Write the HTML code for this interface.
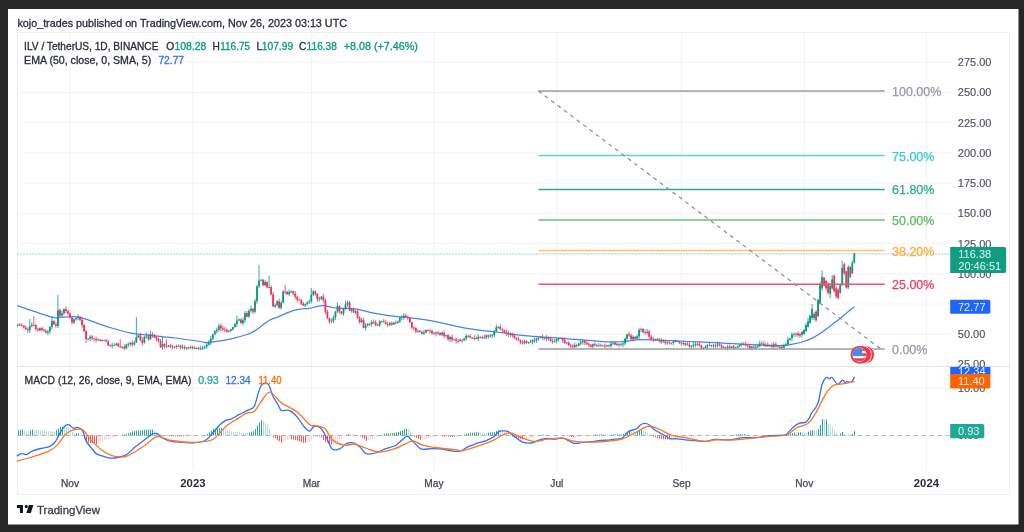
<!DOCTYPE html>
<html><head><meta charset="utf-8"><style>
html,body{margin:0;padding:0;width:1024px;height:532px;overflow:hidden;background:#262626;}
svg{position:absolute;left:0;top:0;}
text{font-family:"Liberation Sans", sans-serif;}
svg{will-change:transform;}
</style></head><body>
<svg width="1024" height="532" viewBox="0 0 1024 532">
<rect x="8" y="9" width="1010.5" height="515.5" fill="#ffffff"/>
<text x="17.4" y="26.5" font-size="11" fill="#2a2e39" font-weight="400" text-anchor="start" textLength="329.6" lengthAdjust="spacingAndGlyphs" stroke="#2a2e39" stroke-width="0.3">kojo_trades published on TradingView.com, Nov 26, 2023 03:13 UTC</text>
<rect x="17.5" y="32.5" width="992" height="462" fill="#fff" stroke="#eeeff1" stroke-width="1"/>
<path d="M17.5,62.3H950.5" stroke="#f2f3f6" stroke-width="1"/>
<path d="M17.5,92.5H950.5" stroke="#f2f3f6" stroke-width="1"/>
<path d="M17.5,122.7H950.5" stroke="#f2f3f6" stroke-width="1"/>
<path d="M17.5,152.9H950.5" stroke="#f2f3f6" stroke-width="1"/>
<path d="M17.5,183.1H950.5" stroke="#f2f3f6" stroke-width="1"/>
<path d="M17.5,213.4H950.5" stroke="#f2f3f6" stroke-width="1"/>
<path d="M17.5,243.6H950.5" stroke="#f2f3f6" stroke-width="1"/>
<path d="M17.5,273.8H950.5" stroke="#f2f3f6" stroke-width="1"/>
<path d="M17.5,304.0H950.5" stroke="#f2f3f6" stroke-width="1"/>
<path d="M17.5,334.2H950.5" stroke="#f2f3f6" stroke-width="1"/>
<path d="M17.5,388.1H950.5" stroke="#f2f3f6" stroke-width="1"/>
<path d="M17.5,435.5H950.5" stroke="#f2f3f6" stroke-width="1"/>
<path d="M70,32.5V470.5" stroke="#f2f3f6" stroke-width="1"/>
<path d="M192.9,32.5V470.5" stroke="#f2f3f6" stroke-width="1"/>
<path d="M311.5,32.5V470.5" stroke="#f2f3f6" stroke-width="1"/>
<path d="M433.9,32.5V470.5" stroke="#f2f3f6" stroke-width="1"/>
<path d="M556.8,32.5V470.5" stroke="#f2f3f6" stroke-width="1"/>
<path d="M681.6,32.5V470.5" stroke="#f2f3f6" stroke-width="1"/>
<path d="M804.3,32.5V470.5" stroke="#f2f3f6" stroke-width="1"/>
<path d="M926.4,32.5V470.5" stroke="#f2f3f6" stroke-width="1"/>
<path d="M17.5,366.5H1009.5" stroke="#e0e3eb" stroke-width="1.2"/>
<path d="M17.5,470.5H1009.5" stroke="#fff" stroke-width="0"/>
<path d="M17.3,305.6 C22.9,307.5 44.1,314.8 51.0,316.8 C57.9,318.8 55.6,317.6 58.6,317.6 C61.6,317.6 65.3,316.8 69.0,316.8 C72.7,316.8 74.2,315.8 81.0,317.6 C87.8,319.4 101.8,325.0 110.0,327.5 C118.2,330.0 123.3,331.5 130.0,332.8 C136.7,334.1 142.5,334.5 150.0,335.4 C157.5,336.3 166.7,337.0 175.0,338.0 C183.3,339.0 194.7,340.7 200.0,341.5 C205.3,342.3 204.4,342.6 207.0,342.6 C209.6,342.6 211.5,342.2 215.6,341.6 C219.7,341.0 226.1,339.9 231.3,338.8 C236.5,337.6 243.0,335.8 246.9,334.5 C250.8,333.2 252.1,332.4 254.7,330.9 C257.3,329.3 259.9,327.1 262.5,325.2 C265.1,323.3 267.7,321.1 270.3,319.7 C272.9,318.3 275.5,317.9 278.1,316.9 C280.7,315.8 283.3,314.5 285.9,313.4 C288.5,312.3 291.2,311.1 293.8,310.3 C296.4,309.5 299.0,309.1 301.6,308.8 C304.2,308.4 306.8,308.8 309.4,308.4 C312.0,308.0 314.9,306.9 317.2,306.4 C319.5,305.9 320.8,305.4 323.4,305.6 C326.0,305.8 329.9,307.0 332.8,307.5 C335.7,308.0 336.9,308.2 340.6,308.4 C344.3,308.6 350.1,308.1 355.0,308.8 C359.9,309.5 363.6,311.1 370.0,312.3 C376.4,313.5 386.9,315.3 393.6,316.2 C400.3,317.1 403.6,317.0 410.0,317.8 C416.4,318.6 423.0,319.1 432.0,320.8 C441.0,322.5 453.3,325.9 464.0,327.8 C474.7,329.7 485.3,330.7 496.0,332.0 C506.7,333.3 517.3,334.8 528.0,335.8 C538.7,336.9 549.3,337.5 560.0,338.3 C570.7,339.1 584.0,340.0 592.0,340.6 C600.0,341.2 602.7,341.8 608.0,341.9 C613.3,342.0 618.7,341.9 624.0,341.5 C629.3,341.1 634.7,339.9 640.0,339.6 C645.3,339.4 648.0,339.7 656.0,340.0 C664.0,340.3 677.3,341.0 688.0,341.5 C698.7,342.0 708.0,342.3 720.0,342.9 C732.0,343.5 749.7,344.8 760.0,345.2 C770.3,345.6 776.0,345.8 781.6,345.6 C787.2,345.4 790.1,344.6 793.8,343.9 C797.5,343.2 800.4,342.6 803.6,341.5 C806.9,340.4 810.0,339.3 813.3,337.6 C816.5,335.9 819.8,333.8 823.1,331.5 C826.4,329.2 829.6,326.6 832.9,324.1 C836.2,321.6 839.2,319.2 842.7,316.3 C846.2,313.4 852.3,308.3 854.2,306.7" fill="none" stroke="#4582f8" stroke-width="1.25"/>
<g><path d="M17.71,323.9V327.0" stroke="#089981" stroke-width="0.8"/>
<rect x="16.81" y="324.7" width="1.8" height="0.8" fill="#089981"/>
<path d="M19.72,323.0V326.2" stroke="#f5305c" stroke-width="0.8"/>
<rect x="18.82" y="324.7" width="1.8" height="0.8" fill="#f5305c"/>
<path d="M21.74,323.3V326.3" stroke="#f5305c" stroke-width="0.8"/>
<rect x="20.84" y="324.9" width="1.8" height="0.9" fill="#f5305c"/>
<path d="M23.75,325.2V328.3" stroke="#f5305c" stroke-width="0.8"/>
<rect x="22.85" y="325.8" width="1.8" height="1.9" fill="#f5305c"/>
<path d="M25.76,325.3V329.9" stroke="#f5305c" stroke-width="0.8"/>
<rect x="24.86" y="327.7" width="1.8" height="1.5" fill="#f5305c"/>
<path d="M27.77,327.3V332.9" stroke="#f5305c" stroke-width="0.8"/>
<rect x="26.87" y="329.2" width="1.8" height="1.0" fill="#f5305c"/>
<path d="M29.78,319.0V333.0" stroke="#089981" stroke-width="0.8"/>
<rect x="28.88" y="326.2" width="1.8" height="4.0" fill="#089981"/>
<path d="M31.79,322.3V327.3" stroke="#089981" stroke-width="0.8"/>
<rect x="30.89" y="324.8" width="1.8" height="1.4" fill="#089981"/>
<path d="M33.80,316.0V326.2" stroke="#f5305c" stroke-width="0.8"/>
<rect x="32.90" y="324.8" width="1.8" height="0.8" fill="#f5305c"/>
<path d="M35.81,324.2V330.8" stroke="#f5305c" stroke-width="0.8"/>
<rect x="34.91" y="325.0" width="1.8" height="4.0" fill="#f5305c"/>
<path d="M37.82,327.7V332.0" stroke="#f5305c" stroke-width="0.8"/>
<rect x="36.92" y="329.0" width="1.8" height="1.2" fill="#f5305c"/>
<path d="M39.83,327.5V331.2" stroke="#089981" stroke-width="0.8"/>
<rect x="38.93" y="328.1" width="1.8" height="2.2" fill="#089981"/>
<path d="M41.85,326.6V331.3" stroke="#f5305c" stroke-width="0.8"/>
<rect x="40.95" y="328.1" width="1.8" height="2.1" fill="#f5305c"/>
<path d="M43.86,328.7V332.1" stroke="#f5305c" stroke-width="0.8"/>
<rect x="42.96" y="330.2" width="1.8" height="0.8" fill="#f5305c"/>
<path d="M45.87,328.9V333.6" stroke="#f5305c" stroke-width="0.8"/>
<rect x="44.97" y="331.0" width="1.8" height="1.6" fill="#f5305c"/>
<path d="M47.88,329.8V335.1" stroke="#089981" stroke-width="0.8"/>
<rect x="46.98" y="331.4" width="1.8" height="1.2" fill="#089981"/>
<path d="M49.89,326.0V334.2" stroke="#089981" stroke-width="0.8"/>
<rect x="48.99" y="327.1" width="1.8" height="4.3" fill="#089981"/>
<path d="M51.90,316.8V329.3" stroke="#089981" stroke-width="0.8"/>
<rect x="51.00" y="321.1" width="1.8" height="6.0" fill="#089981"/>
<path d="M53.91,319.6V324.9" stroke="#f5305c" stroke-width="0.8"/>
<rect x="53.01" y="321.1" width="1.8" height="3.3" fill="#f5305c"/>
<path d="M55.92,322.2V327.6" stroke="#f5305c" stroke-width="0.8"/>
<rect x="55.02" y="324.4" width="1.8" height="1.5" fill="#f5305c"/>
<path d="M57.93,295.0V327.9" stroke="#089981" stroke-width="0.8"/>
<rect x="57.03" y="310.2" width="1.8" height="15.7" fill="#089981"/>
<path d="M59.95,308.4V317.0" stroke="#f5305c" stroke-width="0.8"/>
<rect x="59.05" y="310.2" width="1.8" height="5.4" fill="#f5305c"/>
<path d="M61.96,310.6V317.1" stroke="#089981" stroke-width="0.8"/>
<rect x="61.06" y="313.3" width="1.8" height="2.2" fill="#089981"/>
<path d="M63.97,308.6V315.4" stroke="#089981" stroke-width="0.8"/>
<rect x="63.07" y="309.1" width="1.8" height="4.2" fill="#089981"/>
<path d="M65.98,306.3V313.4" stroke="#f5305c" stroke-width="0.8"/>
<rect x="65.08" y="309.1" width="1.8" height="2.0" fill="#f5305c"/>
<path d="M67.99,309.7V315.6" stroke="#f5305c" stroke-width="0.8"/>
<rect x="67.09" y="311.1" width="1.8" height="2.5" fill="#f5305c"/>
<path d="M70.00,312.1V318.4" stroke="#f5305c" stroke-width="0.8"/>
<rect x="69.10" y="313.6" width="1.8" height="4.0" fill="#f5305c"/>
<path d="M72.01,317.1V324.8" stroke="#f5305c" stroke-width="0.8"/>
<rect x="71.11" y="317.6" width="1.8" height="4.9" fill="#f5305c"/>
<path d="M74.02,318.3V323.9" stroke="#089981" stroke-width="0.8"/>
<rect x="73.12" y="319.3" width="1.8" height="3.2" fill="#089981"/>
<path d="M76.03,317.5V320.8" stroke="#089981" stroke-width="0.8"/>
<rect x="75.13" y="318.1" width="1.8" height="1.2" fill="#089981"/>
<path d="M78.04,314.3V320.4" stroke="#089981" stroke-width="0.8"/>
<rect x="77.14" y="316.9" width="1.8" height="1.2" fill="#089981"/>
<path d="M80.06,315.8V321.2" stroke="#f5305c" stroke-width="0.8"/>
<rect x="79.16" y="316.9" width="1.8" height="2.9" fill="#f5305c"/>
<path d="M82.07,317.2V327.8" stroke="#f5305c" stroke-width="0.8"/>
<rect x="81.17" y="319.8" width="1.8" height="5.3" fill="#f5305c"/>
<path d="M84.08,324.3V332.2" stroke="#f5305c" stroke-width="0.8"/>
<rect x="83.18" y="325.1" width="1.8" height="6.1" fill="#f5305c"/>
<path d="M86.09,329.7V343.0" stroke="#f5305c" stroke-width="0.8"/>
<rect x="85.19" y="331.2" width="1.8" height="7.8" fill="#f5305c"/>
<path d="M88.10,338.2V340.5" stroke="#089981" stroke-width="0.8"/>
<rect x="87.20" y="338.6" width="1.8" height="0.8" fill="#089981"/>
<path d="M90.11,335.0V341.3" stroke="#089981" stroke-width="0.8"/>
<rect x="89.21" y="336.7" width="1.8" height="1.8" fill="#089981"/>
<path d="M92.12,335.1V340.2" stroke="#f5305c" stroke-width="0.8"/>
<rect x="91.22" y="336.7" width="1.8" height="1.5" fill="#f5305c"/>
<path d="M94.13,337.8V341.6" stroke="#f5305c" stroke-width="0.8"/>
<rect x="93.23" y="338.3" width="1.8" height="0.8" fill="#f5305c"/>
<path d="M96.14,336.5V342.4" stroke="#f5305c" stroke-width="0.8"/>
<rect x="95.24" y="339.0" width="1.8" height="1.1" fill="#f5305c"/>
<path d="M98.15,338.3V340.8" stroke="#089981" stroke-width="0.8"/>
<rect x="97.25" y="339.6" width="1.8" height="0.8" fill="#089981"/>
<path d="M100.17,339.1V341.3" stroke="#f5305c" stroke-width="0.8"/>
<rect x="99.27" y="339.6" width="1.8" height="1.2" fill="#f5305c"/>
<path d="M102.18,339.4V342.0" stroke="#089981" stroke-width="0.8"/>
<rect x="101.28" y="340.1" width="1.8" height="0.8" fill="#089981"/>
<path d="M104.19,339.7V341.0" stroke="#f5305c" stroke-width="0.8"/>
<rect x="103.29" y="340.1" width="1.8" height="0.8" fill="#f5305c"/>
<path d="M106.20,339.0V342.0" stroke="#f5305c" stroke-width="0.8"/>
<rect x="105.30" y="340.2" width="1.8" height="1.3" fill="#f5305c"/>
<path d="M108.21,339.6V346.1" stroke="#f5305c" stroke-width="0.8"/>
<rect x="107.31" y="341.5" width="1.8" height="3.9" fill="#f5305c"/>
<path d="M110.22,344.1V346.7" stroke="#f5305c" stroke-width="0.8"/>
<rect x="109.32" y="345.4" width="1.8" height="0.8" fill="#f5305c"/>
<path d="M112.23,342.9V348.2" stroke="#089981" stroke-width="0.8"/>
<rect x="111.33" y="345.3" width="1.8" height="0.8" fill="#089981"/>
<path d="M114.24,343.3V345.9" stroke="#089981" stroke-width="0.8"/>
<rect x="113.34" y="344.9" width="1.8" height="0.8" fill="#089981"/>
<path d="M116.25,342.4V345.9" stroke="#089981" stroke-width="0.8"/>
<rect x="115.35" y="343.6" width="1.8" height="1.3" fill="#089981"/>
<path d="M118.26,342.8V346.7" stroke="#f5305c" stroke-width="0.8"/>
<rect x="117.36" y="343.6" width="1.8" height="2.7" fill="#f5305c"/>
<path d="M120.28,339.3V348.0" stroke="#f5305c" stroke-width="0.8"/>
<rect x="119.38" y="346.3" width="1.8" height="1.0" fill="#f5305c"/>
<path d="M122.29,346.3V349.0" stroke="#089981" stroke-width="0.8"/>
<rect x="121.39" y="346.7" width="1.8" height="0.8" fill="#089981"/>
<path d="M124.30,344.3V350.5" stroke="#f5305c" stroke-width="0.8"/>
<rect x="123.40" y="346.7" width="1.8" height="1.7" fill="#f5305c"/>
<path d="M126.31,343.5V349.2" stroke="#089981" stroke-width="0.8"/>
<rect x="125.41" y="344.7" width="1.8" height="3.7" fill="#089981"/>
<path d="M128.32,342.4V347.0" stroke="#089981" stroke-width="0.8"/>
<rect x="127.42" y="344.1" width="1.8" height="0.8" fill="#089981"/>
<path d="M130.33,341.9V346.5" stroke="#089981" stroke-width="0.8"/>
<rect x="129.43" y="342.8" width="1.8" height="1.3" fill="#089981"/>
<path d="M132.34,340.4V346.9" stroke="#f5305c" stroke-width="0.8"/>
<rect x="131.44" y="342.8" width="1.8" height="1.8" fill="#f5305c"/>
<path d="M134.35,340.4V345.6" stroke="#089981" stroke-width="0.8"/>
<rect x="133.45" y="342.6" width="1.8" height="2.0" fill="#089981"/>
<path d="M136.36,317.0V343.0" stroke="#089981" stroke-width="0.8"/>
<rect x="135.46" y="337.0" width="1.8" height="5.5" fill="#089981"/>
<path d="M138.37,334.5V338.1" stroke="#089981" stroke-width="0.8"/>
<rect x="137.47" y="335.5" width="1.8" height="1.5" fill="#089981"/>
<path d="M140.38,332.8V341.5" stroke="#f5305c" stroke-width="0.8"/>
<rect x="139.48" y="335.5" width="1.8" height="4.5" fill="#f5305c"/>
<path d="M142.40,337.3V345.4" stroke="#f5305c" stroke-width="0.8"/>
<rect x="141.50" y="340.1" width="1.8" height="2.7" fill="#f5305c"/>
<path d="M144.41,335.8V343.7" stroke="#089981" stroke-width="0.8"/>
<rect x="143.51" y="336.7" width="1.8" height="6.0" fill="#089981"/>
<path d="M146.42,332.8V338.6" stroke="#089981" stroke-width="0.8"/>
<rect x="145.52" y="336.4" width="1.8" height="0.8" fill="#089981"/>
<path d="M148.43,334.0V340.8" stroke="#f5305c" stroke-width="0.8"/>
<rect x="147.53" y="336.4" width="1.8" height="2.9" fill="#f5305c"/>
<path d="M150.44,330.8V339.9" stroke="#089981" stroke-width="0.8"/>
<rect x="149.54" y="334.4" width="1.8" height="4.9" fill="#089981"/>
<path d="M152.45,331.9V337.9" stroke="#f5305c" stroke-width="0.8"/>
<rect x="151.55" y="334.4" width="1.8" height="1.2" fill="#f5305c"/>
<path d="M154.46,334.1V338.0" stroke="#f5305c" stroke-width="0.8"/>
<rect x="153.56" y="335.6" width="1.8" height="1.6" fill="#f5305c"/>
<path d="M156.47,336.0V341.3" stroke="#f5305c" stroke-width="0.8"/>
<rect x="155.57" y="337.2" width="1.8" height="1.7" fill="#f5305c"/>
<path d="M158.48,337.6V342.5" stroke="#f5305c" stroke-width="0.8"/>
<rect x="157.58" y="338.9" width="1.8" height="2.2" fill="#f5305c"/>
<path d="M160.50,339.0V347.9" stroke="#f5305c" stroke-width="0.8"/>
<rect x="159.59" y="341.1" width="1.8" height="6.0" fill="#f5305c"/>
<path d="M162.51,336.7V349.7" stroke="#089981" stroke-width="0.8"/>
<rect x="161.61" y="344.1" width="1.8" height="3.1" fill="#089981"/>
<path d="M164.52,343.3V348.5" stroke="#f5305c" stroke-width="0.8"/>
<rect x="163.62" y="344.1" width="1.8" height="2.0" fill="#f5305c"/>
<path d="M166.53,339.3V348.0" stroke="#f5305c" stroke-width="0.8"/>
<rect x="165.63" y="346.1" width="1.8" height="0.8" fill="#f5305c"/>
<path d="M168.54,344.8V347.2" stroke="#089981" stroke-width="0.8"/>
<rect x="167.64" y="345.5" width="1.8" height="1.3" fill="#089981"/>
<path d="M170.55,343.6V348.2" stroke="#f5305c" stroke-width="0.8"/>
<rect x="169.65" y="345.5" width="1.8" height="1.0" fill="#f5305c"/>
<path d="M172.56,345.1V349.4" stroke="#f5305c" stroke-width="0.8"/>
<rect x="171.66" y="346.6" width="1.8" height="0.8" fill="#f5305c"/>
<path d="M174.57,346.0V348.0" stroke="#f5305c" stroke-width="0.8"/>
<rect x="173.67" y="346.9" width="1.8" height="0.8" fill="#f5305c"/>
<path d="M176.58,344.8V348.8" stroke="#089981" stroke-width="0.8"/>
<rect x="175.68" y="345.8" width="1.8" height="1.2" fill="#089981"/>
<path d="M178.59,344.4V346.5" stroke="#f5305c" stroke-width="0.8"/>
<rect x="177.69" y="345.8" width="1.8" height="0.8" fill="#f5305c"/>
<path d="M180.61,344.5V349.1" stroke="#f5305c" stroke-width="0.8"/>
<rect x="179.71" y="345.8" width="1.8" height="1.8" fill="#f5305c"/>
<path d="M182.62,344.3V349.0" stroke="#089981" stroke-width="0.8"/>
<rect x="181.72" y="346.9" width="1.8" height="0.8" fill="#089981"/>
<path d="M184.63,345.3V349.8" stroke="#f5305c" stroke-width="0.8"/>
<rect x="183.73" y="346.9" width="1.8" height="1.3" fill="#f5305c"/>
<path d="M186.64,347.1V349.6" stroke="#089981" stroke-width="0.8"/>
<rect x="185.74" y="347.5" width="1.8" height="0.8" fill="#089981"/>
<path d="M188.65,346.6V349.8" stroke="#089981" stroke-width="0.8"/>
<rect x="187.75" y="347.0" width="1.8" height="0.8" fill="#089981"/>
<path d="M190.66,345.4V349.2" stroke="#f5305c" stroke-width="0.8"/>
<rect x="189.76" y="347.0" width="1.8" height="0.8" fill="#f5305c"/>
<path d="M192.67,345.8V349.7" stroke="#f5305c" stroke-width="0.8"/>
<rect x="191.77" y="347.0" width="1.8" height="1.0" fill="#f5305c"/>
<path d="M194.68,345.8V348.7" stroke="#089981" stroke-width="0.8"/>
<rect x="193.78" y="348.0" width="1.8" height="0.8" fill="#089981"/>
<path d="M196.69,347.0V349.1" stroke="#089981" stroke-width="0.8"/>
<rect x="195.79" y="348.0" width="1.8" height="0.8" fill="#089981"/>
<path d="M198.70,346.4V350.3" stroke="#f5305c" stroke-width="0.8"/>
<rect x="197.80" y="348.0" width="1.8" height="0.8" fill="#f5305c"/>
<path d="M200.72,345.9V350.0" stroke="#089981" stroke-width="0.8"/>
<rect x="199.81" y="348.5" width="1.8" height="0.8" fill="#089981"/>
<path d="M202.73,345.9V350.1" stroke="#089981" stroke-width="0.8"/>
<rect x="201.83" y="347.6" width="1.8" height="1.0" fill="#089981"/>
<path d="M204.74,345.3V349.2" stroke="#089981" stroke-width="0.8"/>
<rect x="203.84" y="346.8" width="1.8" height="0.8" fill="#089981"/>
<path d="M206.75,342.1V348.9" stroke="#089981" stroke-width="0.8"/>
<rect x="205.85" y="344.7" width="1.8" height="2.0" fill="#089981"/>
<path d="M208.76,340.1V345.8" stroke="#089981" stroke-width="0.8"/>
<rect x="207.86" y="342.7" width="1.8" height="2.0" fill="#089981"/>
<path d="M210.77,336.1V345.1" stroke="#089981" stroke-width="0.8"/>
<rect x="209.87" y="338.8" width="1.8" height="4.0" fill="#089981"/>
<path d="M212.78,333.7V340.2" stroke="#089981" stroke-width="0.8"/>
<rect x="211.88" y="334.4" width="1.8" height="4.3" fill="#089981"/>
<path d="M214.79,330.1V335.0" stroke="#089981" stroke-width="0.8"/>
<rect x="213.89" y="331.1" width="1.8" height="3.4" fill="#089981"/>
<path d="M216.80,327.6V333.6" stroke="#089981" stroke-width="0.8"/>
<rect x="215.90" y="329.9" width="1.8" height="1.2" fill="#089981"/>
<path d="M218.81,323.7V331.9" stroke="#089981" stroke-width="0.8"/>
<rect x="217.91" y="325.8" width="1.8" height="4.1" fill="#089981"/>
<path d="M220.83,323.3V331.0" stroke="#f5305c" stroke-width="0.8"/>
<rect x="219.93" y="325.8" width="1.8" height="2.5" fill="#f5305c"/>
<path d="M222.84,325.6V331.0" stroke="#f5305c" stroke-width="0.8"/>
<rect x="221.94" y="328.3" width="1.8" height="1.3" fill="#f5305c"/>
<path d="M224.85,326.8V332.2" stroke="#f5305c" stroke-width="0.8"/>
<rect x="223.95" y="329.6" width="1.8" height="0.8" fill="#f5305c"/>
<path d="M226.86,328.4V333.1" stroke="#f5305c" stroke-width="0.8"/>
<rect x="225.96" y="329.8" width="1.8" height="1.7" fill="#f5305c"/>
<path d="M228.87,329.7V332.6" stroke="#089981" stroke-width="0.8"/>
<rect x="227.97" y="330.6" width="1.8" height="0.9" fill="#089981"/>
<path d="M230.88,328.9V332.3" stroke="#089981" stroke-width="0.8"/>
<rect x="229.98" y="329.3" width="1.8" height="1.3" fill="#089981"/>
<path d="M232.89,326.6V330.5" stroke="#089981" stroke-width="0.8"/>
<rect x="231.99" y="327.1" width="1.8" height="2.3" fill="#089981"/>
<path d="M234.90,322.5V327.6" stroke="#089981" stroke-width="0.8"/>
<rect x="234.00" y="324.2" width="1.8" height="2.9" fill="#089981"/>
<path d="M236.91,315.5V326.9" stroke="#089981" stroke-width="0.8"/>
<rect x="236.01" y="320.7" width="1.8" height="3.5" fill="#089981"/>
<path d="M238.92,318.4V321.2" stroke="#089981" stroke-width="0.8"/>
<rect x="238.02" y="319.4" width="1.8" height="1.3" fill="#089981"/>
<path d="M240.94,318.4V323.8" stroke="#f5305c" stroke-width="0.8"/>
<rect x="240.03" y="319.4" width="1.8" height="3.7" fill="#f5305c"/>
<path d="M242.95,317.6V325.5" stroke="#089981" stroke-width="0.8"/>
<rect x="242.05" y="320.2" width="1.8" height="3.0" fill="#089981"/>
<path d="M244.96,311.0V322.8" stroke="#089981" stroke-width="0.8"/>
<rect x="244.06" y="313.2" width="1.8" height="7.0" fill="#089981"/>
<path d="M246.97,311.1V317.3" stroke="#f5305c" stroke-width="0.8"/>
<rect x="246.07" y="313.2" width="1.8" height="3.5" fill="#f5305c"/>
<path d="M248.98,308.8V318.1" stroke="#089981" stroke-width="0.8"/>
<rect x="248.08" y="310.8" width="1.8" height="5.8" fill="#089981"/>
<path d="M250.99,305.5V312.8" stroke="#089981" stroke-width="0.8"/>
<rect x="250.09" y="308.7" width="1.8" height="2.1" fill="#089981"/>
<path d="M253.00,308.1V314.2" stroke="#f5305c" stroke-width="0.8"/>
<rect x="252.10" y="308.7" width="1.8" height="3.0" fill="#f5305c"/>
<path d="M255.01,298.8V313.2" stroke="#089981" stroke-width="0.8"/>
<rect x="254.11" y="301.2" width="1.8" height="10.5" fill="#089981"/>
<path d="M257.02,284.7V303.8" stroke="#089981" stroke-width="0.8"/>
<rect x="256.12" y="286.4" width="1.8" height="14.8" fill="#089981"/>
<path d="M259.03,264.9V288.1" stroke="#089981" stroke-width="0.8"/>
<rect x="258.13" y="280.5" width="1.8" height="5.9" fill="#089981"/>
<path d="M261.05,279.1V281.3" stroke="#089981" stroke-width="0.8"/>
<rect x="260.15" y="279.8" width="1.8" height="0.8" fill="#089981"/>
<path d="M263.06,278.9V286.4" stroke="#f5305c" stroke-width="0.8"/>
<rect x="262.16" y="279.8" width="1.8" height="5.4" fill="#f5305c"/>
<path d="M265.07,279.8V286.3" stroke="#089981" stroke-width="0.8"/>
<rect x="264.17" y="282.0" width="1.8" height="3.2" fill="#089981"/>
<path d="M267.08,281.2V288.5" stroke="#f5305c" stroke-width="0.8"/>
<rect x="266.18" y="282.0" width="1.8" height="5.2" fill="#f5305c"/>
<path d="M269.09,275.4V287.7" stroke="#089981" stroke-width="0.8"/>
<rect x="268.19" y="287.1" width="1.8" height="0.8" fill="#089981"/>
<path d="M271.10,285.4V295.4" stroke="#f5305c" stroke-width="0.8"/>
<rect x="270.20" y="287.1" width="1.8" height="7.4" fill="#f5305c"/>
<path d="M273.11,291.9V307.0" stroke="#f5305c" stroke-width="0.8"/>
<rect x="272.21" y="294.6" width="1.8" height="11.8" fill="#f5305c"/>
<path d="M275.12,303.6V308.0" stroke="#089981" stroke-width="0.8"/>
<rect x="274.22" y="305.0" width="1.8" height="1.4" fill="#089981"/>
<path d="M277.13,300.0V306.6" stroke="#089981" stroke-width="0.8"/>
<rect x="276.23" y="301.4" width="1.8" height="3.6" fill="#089981"/>
<path d="M279.14,298.6V309.0" stroke="#f5305c" stroke-width="0.8"/>
<rect x="278.24" y="301.4" width="1.8" height="6.4" fill="#f5305c"/>
<path d="M281.15,300.7V309.7" stroke="#089981" stroke-width="0.8"/>
<rect x="280.25" y="302.8" width="1.8" height="5.1" fill="#089981"/>
<path d="M283.17,290.3V303.3" stroke="#089981" stroke-width="0.8"/>
<rect x="282.27" y="291.5" width="1.8" height="11.2" fill="#089981"/>
<path d="M285.18,284.7V294.0" stroke="#f5305c" stroke-width="0.8"/>
<rect x="284.28" y="291.5" width="1.8" height="0.8" fill="#f5305c"/>
<path d="M287.19,291.0V294.9" stroke="#f5305c" stroke-width="0.8"/>
<rect x="286.29" y="291.8" width="1.8" height="2.5" fill="#f5305c"/>
<path d="M289.20,289.4V296.3" stroke="#089981" stroke-width="0.8"/>
<rect x="288.30" y="291.9" width="1.8" height="2.4" fill="#089981"/>
<path d="M291.21,290.4V293.0" stroke="#089981" stroke-width="0.8"/>
<rect x="290.31" y="291.3" width="1.8" height="0.8" fill="#089981"/>
<path d="M293.22,290.6V295.2" stroke="#f5305c" stroke-width="0.8"/>
<rect x="292.32" y="291.3" width="1.8" height="2.4" fill="#f5305c"/>
<path d="M295.23,291.0V299.5" stroke="#f5305c" stroke-width="0.8"/>
<rect x="294.33" y="293.7" width="1.8" height="3.1" fill="#f5305c"/>
<path d="M297.24,295.8V302.4" stroke="#f5305c" stroke-width="0.8"/>
<rect x="296.34" y="296.8" width="1.8" height="2.9" fill="#f5305c"/>
<path d="M299.25,298.5V300.6" stroke="#f5305c" stroke-width="0.8"/>
<rect x="298.35" y="299.7" width="1.8" height="0.8" fill="#f5305c"/>
<path d="M301.26,298.6V305.1" stroke="#f5305c" stroke-width="0.8"/>
<rect x="300.37" y="300.2" width="1.8" height="3.4" fill="#f5305c"/>
<path d="M303.28,301.9V306.0" stroke="#f5305c" stroke-width="0.8"/>
<rect x="302.38" y="303.5" width="1.8" height="2.1" fill="#f5305c"/>
<path d="M305.29,303.6V307.0" stroke="#089981" stroke-width="0.8"/>
<rect x="304.39" y="304.2" width="1.8" height="1.4" fill="#089981"/>
<path d="M307.30,301.7V305.4" stroke="#089981" stroke-width="0.8"/>
<rect x="306.40" y="302.1" width="1.8" height="2.1" fill="#089981"/>
<path d="M309.31,299.4V303.8" stroke="#089981" stroke-width="0.8"/>
<rect x="308.41" y="301.2" width="1.8" height="1.0" fill="#089981"/>
<path d="M311.32,288.0V303.3" stroke="#089981" stroke-width="0.8"/>
<rect x="310.42" y="294.8" width="1.8" height="6.4" fill="#089981"/>
<path d="M313.33,289.9V295.9" stroke="#089981" stroke-width="0.8"/>
<rect x="312.43" y="291.3" width="1.8" height="3.5" fill="#089981"/>
<path d="M315.34,290.5V295.9" stroke="#f5305c" stroke-width="0.8"/>
<rect x="314.44" y="291.3" width="1.8" height="2.4" fill="#f5305c"/>
<path d="M317.35,293.2V301.8" stroke="#f5305c" stroke-width="0.8"/>
<rect x="316.45" y="293.7" width="1.8" height="5.6" fill="#f5305c"/>
<path d="M319.36,296.6V301.5" stroke="#089981" stroke-width="0.8"/>
<rect x="318.46" y="298.5" width="1.8" height="0.8" fill="#089981"/>
<path d="M321.38,295.9V300.2" stroke="#089981" stroke-width="0.8"/>
<rect x="320.48" y="296.7" width="1.8" height="1.9" fill="#089981"/>
<path d="M323.39,294.3V302.8" stroke="#f5305c" stroke-width="0.8"/>
<rect x="322.49" y="296.7" width="1.8" height="3.8" fill="#f5305c"/>
<path d="M325.40,298.7V314.3" stroke="#f5305c" stroke-width="0.8"/>
<rect x="324.50" y="300.5" width="1.8" height="11.3" fill="#f5305c"/>
<path d="M327.41,309.7V319.2" stroke="#f5305c" stroke-width="0.8"/>
<rect x="326.51" y="311.8" width="1.8" height="6.4" fill="#f5305c"/>
<path d="M329.42,317.5V324.0" stroke="#f5305c" stroke-width="0.8"/>
<rect x="328.52" y="318.2" width="1.8" height="3.2" fill="#f5305c"/>
<path d="M331.43,318.5V323.2" stroke="#089981" stroke-width="0.8"/>
<rect x="330.53" y="320.9" width="1.8" height="0.8" fill="#089981"/>
<path d="M333.44,315.6V323.0" stroke="#089981" stroke-width="0.8"/>
<rect x="332.54" y="317.5" width="1.8" height="3.4" fill="#089981"/>
<path d="M335.45,311.1V319.8" stroke="#089981" stroke-width="0.8"/>
<rect x="334.55" y="311.5" width="1.8" height="6.0" fill="#089981"/>
<path d="M337.46,302.5V313.2" stroke="#089981" stroke-width="0.8"/>
<rect x="336.56" y="306.1" width="1.8" height="5.4" fill="#089981"/>
<path d="M339.47,305.5V313.9" stroke="#f5305c" stroke-width="0.8"/>
<rect x="338.57" y="306.1" width="1.8" height="5.6" fill="#f5305c"/>
<path d="M341.49,311.1V314.7" stroke="#f5305c" stroke-width="0.8"/>
<rect x="340.59" y="311.7" width="1.8" height="1.9" fill="#f5305c"/>
<path d="M343.50,307.8V315.8" stroke="#089981" stroke-width="0.8"/>
<rect x="342.60" y="308.7" width="1.8" height="5.0" fill="#089981"/>
<path d="M345.51,300.6V310.0" stroke="#089981" stroke-width="0.8"/>
<rect x="344.61" y="304.5" width="1.8" height="4.2" fill="#089981"/>
<path d="M347.52,300.5V306.7" stroke="#089981" stroke-width="0.8"/>
<rect x="346.62" y="302.5" width="1.8" height="2.0" fill="#089981"/>
<path d="M349.53,300.6V311.3" stroke="#f5305c" stroke-width="0.8"/>
<rect x="348.63" y="302.5" width="1.8" height="8.2" fill="#f5305c"/>
<path d="M351.54,308.2V312.9" stroke="#089981" stroke-width="0.8"/>
<rect x="350.64" y="309.2" width="1.8" height="1.5" fill="#089981"/>
<path d="M353.55,307.5V312.9" stroke="#f5305c" stroke-width="0.8"/>
<rect x="352.65" y="309.2" width="1.8" height="3.3" fill="#f5305c"/>
<path d="M355.56,310.2V314.5" stroke="#089981" stroke-width="0.8"/>
<rect x="354.66" y="311.3" width="1.8" height="1.3" fill="#089981"/>
<path d="M357.57,309.2V318.9" stroke="#f5305c" stroke-width="0.8"/>
<rect x="356.67" y="311.3" width="1.8" height="6.6" fill="#f5305c"/>
<path d="M359.58,316.3V323.7" stroke="#f5305c" stroke-width="0.8"/>
<rect x="358.68" y="317.8" width="1.8" height="4.4" fill="#f5305c"/>
<path d="M361.60,317.6V323.1" stroke="#089981" stroke-width="0.8"/>
<rect x="360.70" y="320.2" width="1.8" height="2.0" fill="#089981"/>
<path d="M363.61,317.5V328.3" stroke="#f5305c" stroke-width="0.8"/>
<rect x="362.71" y="320.2" width="1.8" height="7.7" fill="#f5305c"/>
<path d="M365.62,323.1V330.6" stroke="#089981" stroke-width="0.8"/>
<rect x="364.72" y="325.4" width="1.8" height="2.4" fill="#089981"/>
<path d="M367.63,323.0V326.3" stroke="#089981" stroke-width="0.8"/>
<rect x="366.73" y="324.0" width="1.8" height="1.4" fill="#089981"/>
<path d="M369.64,323.1V325.8" stroke="#089981" stroke-width="0.8"/>
<rect x="368.74" y="324.0" width="1.8" height="0.8" fill="#089981"/>
<path d="M371.65,320.2V326.7" stroke="#089981" stroke-width="0.8"/>
<rect x="370.75" y="321.8" width="1.8" height="2.2" fill="#089981"/>
<path d="M373.66,319.5V323.9" stroke="#f5305c" stroke-width="0.8"/>
<rect x="372.76" y="321.8" width="1.8" height="0.8" fill="#f5305c"/>
<path d="M375.67,320.2V326.0" stroke="#f5305c" stroke-width="0.8"/>
<rect x="374.77" y="322.3" width="1.8" height="2.8" fill="#f5305c"/>
<path d="M377.68,323.5V325.8" stroke="#f5305c" stroke-width="0.8"/>
<rect x="376.78" y="325.1" width="1.8" height="0.8" fill="#f5305c"/>
<path d="M379.69,319.9V326.8" stroke="#089981" stroke-width="0.8"/>
<rect x="378.79" y="321.5" width="1.8" height="3.8" fill="#089981"/>
<path d="M381.71,320.6V322.7" stroke="#089981" stroke-width="0.8"/>
<rect x="380.81" y="321.3" width="1.8" height="0.8" fill="#089981"/>
<path d="M383.72,318.9V322.5" stroke="#f5305c" stroke-width="0.8"/>
<rect x="382.82" y="321.3" width="1.8" height="0.8" fill="#f5305c"/>
<path d="M385.73,319.7V324.6" stroke="#f5305c" stroke-width="0.8"/>
<rect x="384.83" y="322.1" width="1.8" height="1.7" fill="#f5305c"/>
<path d="M387.74,321.8V327.4" stroke="#f5305c" stroke-width="0.8"/>
<rect x="386.84" y="323.9" width="1.8" height="1.0" fill="#f5305c"/>
<path d="M389.75,321.9V326.2" stroke="#089981" stroke-width="0.8"/>
<rect x="388.85" y="323.2" width="1.8" height="1.6" fill="#089981"/>
<path d="M391.76,321.4V325.9" stroke="#f5305c" stroke-width="0.8"/>
<rect x="390.86" y="323.2" width="1.8" height="1.4" fill="#f5305c"/>
<path d="M393.77,321.7V325.1" stroke="#089981" stroke-width="0.8"/>
<rect x="392.87" y="322.8" width="1.8" height="1.8" fill="#089981"/>
<path d="M395.78,320.4V323.9" stroke="#f5305c" stroke-width="0.8"/>
<rect x="394.88" y="322.8" width="1.8" height="0.8" fill="#f5305c"/>
<path d="M397.79,320.6V323.9" stroke="#089981" stroke-width="0.8"/>
<rect x="396.89" y="321.5" width="1.8" height="1.3" fill="#089981"/>
<path d="M399.80,316.8V322.8" stroke="#089981" stroke-width="0.8"/>
<rect x="398.90" y="317.7" width="1.8" height="3.9" fill="#089981"/>
<path d="M401.81,314.7V320.0" stroke="#089981" stroke-width="0.8"/>
<rect x="400.92" y="317.2" width="1.8" height="0.8" fill="#089981"/>
<path d="M403.83,313.1V319.9" stroke="#089981" stroke-width="0.8"/>
<rect x="402.93" y="315.7" width="1.8" height="1.6" fill="#089981"/>
<path d="M405.84,313.6V317.5" stroke="#f5305c" stroke-width="0.8"/>
<rect x="404.94" y="315.7" width="1.8" height="1.3" fill="#f5305c"/>
<path d="M407.85,315.5V320.3" stroke="#f5305c" stroke-width="0.8"/>
<rect x="406.95" y="317.0" width="1.8" height="1.2" fill="#f5305c"/>
<path d="M409.86,317.0V322.8" stroke="#f5305c" stroke-width="0.8"/>
<rect x="408.96" y="318.1" width="1.8" height="4.1" fill="#f5305c"/>
<path d="M411.87,321.5V329.2" stroke="#f5305c" stroke-width="0.8"/>
<rect x="410.97" y="322.2" width="1.8" height="5.4" fill="#f5305c"/>
<path d="M413.88,326.5V330.2" stroke="#f5305c" stroke-width="0.8"/>
<rect x="412.98" y="327.6" width="1.8" height="0.8" fill="#f5305c"/>
<path d="M415.89,327.0V333.3" stroke="#f5305c" stroke-width="0.8"/>
<rect x="414.99" y="328.0" width="1.8" height="3.3" fill="#f5305c"/>
<path d="M417.90,329.3V332.7" stroke="#089981" stroke-width="0.8"/>
<rect x="417.00" y="331.0" width="1.8" height="0.8" fill="#089981"/>
<path d="M419.91,330.2V332.9" stroke="#f5305c" stroke-width="0.8"/>
<rect x="419.01" y="331.0" width="1.8" height="1.0" fill="#f5305c"/>
<path d="M421.93,330.4V334.6" stroke="#f5305c" stroke-width="0.8"/>
<rect x="421.03" y="332.0" width="1.8" height="1.7" fill="#f5305c"/>
<path d="M423.94,329.8V335.2" stroke="#089981" stroke-width="0.8"/>
<rect x="423.04" y="332.5" width="1.8" height="1.2" fill="#089981"/>
<path d="M425.95,329.2V333.2" stroke="#089981" stroke-width="0.8"/>
<rect x="425.05" y="330.0" width="1.8" height="2.5" fill="#089981"/>
<path d="M427.96,329.4V331.5" stroke="#f5305c" stroke-width="0.8"/>
<rect x="427.06" y="330.0" width="1.8" height="0.8" fill="#f5305c"/>
<path d="M429.97,328.8V333.5" stroke="#f5305c" stroke-width="0.8"/>
<rect x="429.07" y="330.6" width="1.8" height="0.8" fill="#f5305c"/>
<path d="M431.98,329.6V334.7" stroke="#f5305c" stroke-width="0.8"/>
<rect x="431.08" y="330.9" width="1.8" height="2.4" fill="#f5305c"/>
<path d="M433.99,332.0V334.7" stroke="#f5305c" stroke-width="0.8"/>
<rect x="433.09" y="333.3" width="1.8" height="0.8" fill="#f5305c"/>
<path d="M436.00,331.5V336.3" stroke="#089981" stroke-width="0.8"/>
<rect x="435.10" y="332.5" width="1.8" height="1.0" fill="#089981"/>
<path d="M438.01,330.9V334.9" stroke="#f5305c" stroke-width="0.8"/>
<rect x="437.11" y="332.5" width="1.8" height="0.8" fill="#f5305c"/>
<path d="M440.02,332.0V335.8" stroke="#f5305c" stroke-width="0.8"/>
<rect x="439.12" y="333.0" width="1.8" height="1.8" fill="#f5305c"/>
<path d="M442.04,331.5V336.2" stroke="#089981" stroke-width="0.8"/>
<rect x="441.14" y="332.8" width="1.8" height="1.9" fill="#089981"/>
<path d="M444.05,330.4V338.3" stroke="#f5305c" stroke-width="0.8"/>
<rect x="443.15" y="332.8" width="1.8" height="3.0" fill="#f5305c"/>
<path d="M446.06,334.9V337.9" stroke="#089981" stroke-width="0.8"/>
<rect x="445.16" y="335.3" width="1.8" height="0.8" fill="#089981"/>
<path d="M448.07,333.8V341.1" stroke="#f5305c" stroke-width="0.8"/>
<rect x="447.17" y="335.3" width="1.8" height="3.9" fill="#f5305c"/>
<path d="M450.08,335.7V341.9" stroke="#089981" stroke-width="0.8"/>
<rect x="449.18" y="337.1" width="1.8" height="2.2" fill="#089981"/>
<path d="M452.09,334.6V342.3" stroke="#f5305c" stroke-width="0.8"/>
<rect x="451.19" y="337.1" width="1.8" height="2.5" fill="#f5305c"/>
<path d="M454.10,338.7V340.3" stroke="#089981" stroke-width="0.8"/>
<rect x="453.20" y="339.4" width="1.8" height="0.8" fill="#089981"/>
<path d="M456.11,337.3V343.6" stroke="#f5305c" stroke-width="0.8"/>
<rect x="455.21" y="339.4" width="1.8" height="1.6" fill="#f5305c"/>
<path d="M458.12,339.0V343.3" stroke="#f5305c" stroke-width="0.8"/>
<rect x="457.22" y="341.0" width="1.8" height="0.8" fill="#f5305c"/>
<path d="M460.13,338.2V341.6" stroke="#089981" stroke-width="0.8"/>
<rect x="459.23" y="339.9" width="1.8" height="1.2" fill="#089981"/>
<path d="M462.15,338.9V342.9" stroke="#f5305c" stroke-width="0.8"/>
<rect x="461.25" y="339.9" width="1.8" height="0.8" fill="#f5305c"/>
<path d="M464.16,337.5V341.0" stroke="#089981" stroke-width="0.8"/>
<rect x="463.26" y="338.7" width="1.8" height="1.6" fill="#089981"/>
<path d="M466.17,334.0V340.7" stroke="#089981" stroke-width="0.8"/>
<rect x="465.27" y="335.9" width="1.8" height="2.7" fill="#089981"/>
<path d="M468.18,335.2V337.6" stroke="#089981" stroke-width="0.8"/>
<rect x="467.28" y="335.8" width="1.8" height="0.8" fill="#089981"/>
<path d="M470.19,334.5V338.5" stroke="#f5305c" stroke-width="0.8"/>
<rect x="469.29" y="335.8" width="1.8" height="1.8" fill="#f5305c"/>
<path d="M472.20,337.1V339.2" stroke="#f5305c" stroke-width="0.8"/>
<rect x="471.30" y="337.6" width="1.8" height="0.8" fill="#f5305c"/>
<path d="M474.21,335.2V340.0" stroke="#089981" stroke-width="0.8"/>
<rect x="473.31" y="337.9" width="1.8" height="0.8" fill="#089981"/>
<path d="M476.22,336.3V339.7" stroke="#f5305c" stroke-width="0.8"/>
<rect x="475.32" y="337.9" width="1.8" height="0.9" fill="#f5305c"/>
<path d="M478.23,334.1V340.9" stroke="#089981" stroke-width="0.8"/>
<rect x="477.33" y="336.8" width="1.8" height="2.0" fill="#089981"/>
<path d="M480.24,336.4V338.6" stroke="#f5305c" stroke-width="0.8"/>
<rect x="479.34" y="336.8" width="1.8" height="0.8" fill="#f5305c"/>
<path d="M482.26,335.6V339.0" stroke="#f5305c" stroke-width="0.8"/>
<rect x="481.36" y="337.0" width="1.8" height="1.0" fill="#f5305c"/>
<path d="M484.27,335.0V338.9" stroke="#089981" stroke-width="0.8"/>
<rect x="483.37" y="337.6" width="1.8" height="0.8" fill="#089981"/>
<path d="M486.28,334.2V339.0" stroke="#089981" stroke-width="0.8"/>
<rect x="485.38" y="335.4" width="1.8" height="2.2" fill="#089981"/>
<path d="M488.29,334.6V338.8" stroke="#f5305c" stroke-width="0.8"/>
<rect x="487.39" y="335.4" width="1.8" height="1.1" fill="#f5305c"/>
<path d="M490.30,334.0V337.4" stroke="#089981" stroke-width="0.8"/>
<rect x="489.40" y="335.6" width="1.8" height="0.9" fill="#089981"/>
<path d="M492.31,334.0V338.0" stroke="#089981" stroke-width="0.8"/>
<rect x="491.41" y="335.1" width="1.8" height="0.8" fill="#089981"/>
<path d="M494.32,330.2V337.4" stroke="#089981" stroke-width="0.8"/>
<rect x="493.42" y="331.1" width="1.8" height="4.0" fill="#089981"/>
<path d="M496.33,324.5V332.7" stroke="#089981" stroke-width="0.8"/>
<rect x="495.43" y="327.2" width="1.8" height="4.0" fill="#089981"/>
<path d="M498.34,326.0V328.6" stroke="#089981" stroke-width="0.8"/>
<rect x="497.44" y="326.9" width="1.8" height="0.8" fill="#089981"/>
<path d="M500.35,324.2V329.9" stroke="#f5305c" stroke-width="0.8"/>
<rect x="499.45" y="326.9" width="1.8" height="2.3" fill="#f5305c"/>
<path d="M502.37,328.3V332.8" stroke="#f5305c" stroke-width="0.8"/>
<rect x="501.47" y="329.2" width="1.8" height="0.9" fill="#f5305c"/>
<path d="M504.38,329.6V332.8" stroke="#f5305c" stroke-width="0.8"/>
<rect x="503.48" y="330.1" width="1.8" height="2.2" fill="#f5305c"/>
<path d="M506.39,329.7V336.0" stroke="#f5305c" stroke-width="0.8"/>
<rect x="505.49" y="332.3" width="1.8" height="1.2" fill="#f5305c"/>
<path d="M508.40,330.7V337.0" stroke="#f5305c" stroke-width="0.8"/>
<rect x="507.50" y="333.5" width="1.8" height="0.9" fill="#f5305c"/>
<path d="M510.41,332.4V337.0" stroke="#089981" stroke-width="0.8"/>
<rect x="509.51" y="333.3" width="1.8" height="1.1" fill="#089981"/>
<path d="M512.42,332.8V337.4" stroke="#f5305c" stroke-width="0.8"/>
<rect x="511.52" y="333.3" width="1.8" height="2.2" fill="#f5305c"/>
<path d="M514.43,334.1V339.0" stroke="#f5305c" stroke-width="0.8"/>
<rect x="513.53" y="335.4" width="1.8" height="2.4" fill="#f5305c"/>
<path d="M516.44,337.4V340.4" stroke="#f5305c" stroke-width="0.8"/>
<rect x="515.54" y="337.8" width="1.8" height="1.5" fill="#f5305c"/>
<path d="M518.45,336.6V341.0" stroke="#f5305c" stroke-width="0.8"/>
<rect x="517.55" y="339.3" width="1.8" height="1.0" fill="#f5305c"/>
<path d="M520.46,339.4V343.9" stroke="#f5305c" stroke-width="0.8"/>
<rect x="519.56" y="340.3" width="1.8" height="2.3" fill="#f5305c"/>
<path d="M522.48,340.2V344.6" stroke="#f5305c" stroke-width="0.8"/>
<rect x="521.58" y="342.6" width="1.8" height="0.8" fill="#f5305c"/>
<path d="M524.49,339.6V344.5" stroke="#089981" stroke-width="0.8"/>
<rect x="523.59" y="341.1" width="1.8" height="2.1" fill="#089981"/>
<path d="M526.50,340.2V343.9" stroke="#f5305c" stroke-width="0.8"/>
<rect x="525.60" y="341.1" width="1.8" height="1.5" fill="#f5305c"/>
<path d="M528.51,341.7V344.0" stroke="#089981" stroke-width="0.8"/>
<rect x="527.61" y="342.2" width="1.8" height="0.8" fill="#089981"/>
<path d="M530.52,339.7V342.7" stroke="#089981" stroke-width="0.8"/>
<rect x="529.62" y="341.9" width="1.8" height="0.8" fill="#089981"/>
<path d="M532.53,339.3V344.6" stroke="#089981" stroke-width="0.8"/>
<rect x="531.63" y="339.8" width="1.8" height="2.1" fill="#089981"/>
<path d="M534.54,337.7V342.9" stroke="#f5305c" stroke-width="0.8"/>
<rect x="533.64" y="339.8" width="1.8" height="0.8" fill="#f5305c"/>
<path d="M536.55,337.4V343.0" stroke="#089981" stroke-width="0.8"/>
<rect x="535.65" y="338.5" width="1.8" height="1.8" fill="#089981"/>
<path d="M538.56,336.8V340.6" stroke="#089981" stroke-width="0.8"/>
<rect x="537.66" y="337.8" width="1.8" height="0.8" fill="#089981"/>
<path d="M540.57,335.9V338.2" stroke="#089981" stroke-width="0.8"/>
<rect x="539.67" y="337.0" width="1.8" height="0.8" fill="#089981"/>
<path d="M542.59,334.4V340.1" stroke="#f5305c" stroke-width="0.8"/>
<rect x="541.69" y="337.0" width="1.8" height="1.2" fill="#f5305c"/>
<path d="M544.60,337.7V339.7" stroke="#f5305c" stroke-width="0.8"/>
<rect x="543.70" y="338.2" width="1.8" height="0.8" fill="#f5305c"/>
<path d="M546.61,335.1V341.4" stroke="#089981" stroke-width="0.8"/>
<rect x="545.71" y="337.8" width="1.8" height="0.9" fill="#089981"/>
<path d="M548.62,336.8V340.6" stroke="#f5305c" stroke-width="0.8"/>
<rect x="547.72" y="337.8" width="1.8" height="1.3" fill="#f5305c"/>
<path d="M550.63,336.5V341.8" stroke="#f5305c" stroke-width="0.8"/>
<rect x="549.73" y="339.1" width="1.8" height="1.8" fill="#f5305c"/>
<path d="M552.64,338.8V343.8" stroke="#f5305c" stroke-width="0.8"/>
<rect x="551.74" y="341.0" width="1.8" height="0.8" fill="#f5305c"/>
<path d="M554.65,339.0V342.6" stroke="#089981" stroke-width="0.8"/>
<rect x="553.75" y="340.9" width="1.8" height="0.8" fill="#089981"/>
<path d="M556.66,337.9V343.1" stroke="#089981" stroke-width="0.8"/>
<rect x="555.76" y="339.2" width="1.8" height="1.7" fill="#089981"/>
<path d="M558.67,337.2V341.4" stroke="#089981" stroke-width="0.8"/>
<rect x="557.77" y="338.1" width="1.8" height="1.1" fill="#089981"/>
<path d="M560.68,337.6V338.6" stroke="#f5305c" stroke-width="0.8"/>
<rect x="559.78" y="338.1" width="1.8" height="0.8" fill="#f5305c"/>
<path d="M562.70,337.0V342.9" stroke="#f5305c" stroke-width="0.8"/>
<rect x="561.80" y="338.2" width="1.8" height="2.0" fill="#f5305c"/>
<path d="M564.71,337.4V344.1" stroke="#f5305c" stroke-width="0.8"/>
<rect x="563.81" y="340.1" width="1.8" height="2.9" fill="#f5305c"/>
<path d="M566.72,342.0V344.6" stroke="#089981" stroke-width="0.8"/>
<rect x="565.82" y="342.6" width="1.8" height="0.8" fill="#089981"/>
<path d="M568.73,341.1V346.3" stroke="#f5305c" stroke-width="0.8"/>
<rect x="567.83" y="342.6" width="1.8" height="2.7" fill="#f5305c"/>
<path d="M570.74,343.4V348.3" stroke="#f5305c" stroke-width="0.8"/>
<rect x="569.84" y="345.3" width="1.8" height="1.0" fill="#f5305c"/>
<path d="M572.75,343.9V349.0" stroke="#f5305c" stroke-width="0.8"/>
<rect x="571.85" y="346.3" width="1.8" height="0.8" fill="#f5305c"/>
<path d="M574.76,342.5V348.2" stroke="#089981" stroke-width="0.8"/>
<rect x="573.86" y="345.0" width="1.8" height="2.1" fill="#089981"/>
<path d="M576.77,343.7V347.6" stroke="#f5305c" stroke-width="0.8"/>
<rect x="575.87" y="345.0" width="1.8" height="0.8" fill="#f5305c"/>
<path d="M578.78,342.5V346.5" stroke="#089981" stroke-width="0.8"/>
<rect x="577.88" y="343.5" width="1.8" height="2.0" fill="#089981"/>
<path d="M580.79,339.5V345.3" stroke="#089981" stroke-width="0.8"/>
<rect x="579.89" y="342.0" width="1.8" height="1.5" fill="#089981"/>
<path d="M582.81,339.7V344.8" stroke="#089981" stroke-width="0.8"/>
<rect x="581.91" y="341.1" width="1.8" height="0.9" fill="#089981"/>
<path d="M584.82,340.1V345.2" stroke="#f5305c" stroke-width="0.8"/>
<rect x="583.92" y="341.1" width="1.8" height="1.8" fill="#f5305c"/>
<path d="M586.83,340.1V345.0" stroke="#f5305c" stroke-width="0.8"/>
<rect x="585.93" y="342.9" width="1.8" height="1.5" fill="#f5305c"/>
<path d="M588.84,342.0V347.1" stroke="#f5305c" stroke-width="0.8"/>
<rect x="587.94" y="344.4" width="1.8" height="0.8" fill="#f5305c"/>
<path d="M590.85,344.2V347.7" stroke="#f5305c" stroke-width="0.8"/>
<rect x="589.95" y="344.7" width="1.8" height="1.9" fill="#f5305c"/>
<path d="M592.86,343.4V349.3" stroke="#089981" stroke-width="0.8"/>
<rect x="591.96" y="344.2" width="1.8" height="2.4" fill="#089981"/>
<path d="M594.87,341.6V346.5" stroke="#f5305c" stroke-width="0.8"/>
<rect x="593.97" y="344.2" width="1.8" height="1.0" fill="#f5305c"/>
<path d="M596.88,343.7V346.9" stroke="#f5305c" stroke-width="0.8"/>
<rect x="595.98" y="345.2" width="1.8" height="0.8" fill="#f5305c"/>
<path d="M598.89,343.0V346.5" stroke="#089981" stroke-width="0.8"/>
<rect x="597.99" y="345.6" width="1.8" height="0.8" fill="#089981"/>
<path d="M600.90,343.5V346.6" stroke="#089981" stroke-width="0.8"/>
<rect x="600.00" y="345.4" width="1.8" height="0.8" fill="#089981"/>
<path d="M602.92,344.7V346.5" stroke="#f5305c" stroke-width="0.8"/>
<rect x="602.02" y="345.4" width="1.8" height="0.8" fill="#f5305c"/>
<path d="M604.93,343.7V348.0" stroke="#f5305c" stroke-width="0.8"/>
<rect x="604.03" y="345.6" width="1.8" height="0.8" fill="#f5305c"/>
<path d="M606.94,344.9V347.2" stroke="#089981" stroke-width="0.8"/>
<rect x="606.04" y="345.4" width="1.8" height="0.8" fill="#089981"/>
<path d="M608.95,344.5V347.3" stroke="#f5305c" stroke-width="0.8"/>
<rect x="608.05" y="345.4" width="1.8" height="0.8" fill="#f5305c"/>
<path d="M610.96,341.3V347.8" stroke="#089981" stroke-width="0.8"/>
<rect x="610.06" y="343.6" width="1.8" height="2.5" fill="#089981"/>
<path d="M612.97,342.2V345.0" stroke="#089981" stroke-width="0.8"/>
<rect x="612.07" y="342.8" width="1.8" height="0.8" fill="#089981"/>
<path d="M614.98,340.9V345.2" stroke="#f5305c" stroke-width="0.8"/>
<rect x="614.08" y="342.8" width="1.8" height="1.8" fill="#f5305c"/>
<path d="M616.99,342.0V346.0" stroke="#089981" stroke-width="0.8"/>
<rect x="616.09" y="344.1" width="1.8" height="0.8" fill="#089981"/>
<path d="M619.00,342.9V347.4" stroke="#f5305c" stroke-width="0.8"/>
<rect x="618.10" y="344.1" width="1.8" height="0.8" fill="#f5305c"/>
<path d="M621.01,342.7V346.0" stroke="#089981" stroke-width="0.8"/>
<rect x="620.11" y="344.4" width="1.8" height="0.8" fill="#089981"/>
<path d="M623.02,340.9V347.2" stroke="#089981" stroke-width="0.8"/>
<rect x="622.12" y="343.4" width="1.8" height="1.0" fill="#089981"/>
<path d="M625.04,337.7V345.6" stroke="#089981" stroke-width="0.8"/>
<rect x="624.14" y="338.6" width="1.8" height="4.8" fill="#089981"/>
<path d="M627.05,333.8V341.2" stroke="#089981" stroke-width="0.8"/>
<rect x="626.15" y="334.3" width="1.8" height="4.3" fill="#089981"/>
<path d="M629.06,331.9V336.9" stroke="#f5305c" stroke-width="0.8"/>
<rect x="628.16" y="334.3" width="1.8" height="1.2" fill="#f5305c"/>
<path d="M631.07,334.0V340.1" stroke="#f5305c" stroke-width="0.8"/>
<rect x="630.17" y="335.5" width="1.8" height="3.8" fill="#f5305c"/>
<path d="M633.08,335.1V341.2" stroke="#089981" stroke-width="0.8"/>
<rect x="632.18" y="336.8" width="1.8" height="2.5" fill="#089981"/>
<path d="M635.09,336.2V340.5" stroke="#f5305c" stroke-width="0.8"/>
<rect x="634.19" y="336.8" width="1.8" height="1.9" fill="#f5305c"/>
<path d="M637.10,334.7V339.4" stroke="#089981" stroke-width="0.8"/>
<rect x="636.20" y="336.3" width="1.8" height="2.3" fill="#089981"/>
<path d="M639.11,328.2V339.0" stroke="#089981" stroke-width="0.8"/>
<rect x="638.21" y="329.9" width="1.8" height="6.5" fill="#089981"/>
<path d="M641.12,327.6V332.2" stroke="#089981" stroke-width="0.8"/>
<rect x="640.22" y="329.2" width="1.8" height="0.8" fill="#089981"/>
<path d="M643.13,328.3V333.1" stroke="#f5305c" stroke-width="0.8"/>
<rect x="642.24" y="329.2" width="1.8" height="3.2" fill="#f5305c"/>
<path d="M645.15,329.7V334.6" stroke="#f5305c" stroke-width="0.8"/>
<rect x="644.25" y="332.4" width="1.8" height="0.8" fill="#f5305c"/>
<path d="M647.16,329.1V334.3" stroke="#089981" stroke-width="0.8"/>
<rect x="646.26" y="331.7" width="1.8" height="1.3" fill="#089981"/>
<path d="M649.17,329.8V339.2" stroke="#f5305c" stroke-width="0.8"/>
<rect x="648.27" y="331.7" width="1.8" height="5.1" fill="#f5305c"/>
<path d="M651.18,334.5V340.2" stroke="#f5305c" stroke-width="0.8"/>
<rect x="650.28" y="336.8" width="1.8" height="2.4" fill="#f5305c"/>
<path d="M653.19,336.8V342.3" stroke="#f5305c" stroke-width="0.8"/>
<rect x="652.29" y="339.2" width="1.8" height="0.8" fill="#f5305c"/>
<path d="M655.20,338.4V341.3" stroke="#089981" stroke-width="0.8"/>
<rect x="654.30" y="339.3" width="1.8" height="0.8" fill="#089981"/>
<path d="M657.21,338.0V340.9" stroke="#f5305c" stroke-width="0.8"/>
<rect x="656.31" y="339.3" width="1.8" height="0.9" fill="#f5305c"/>
<path d="M659.22,337.9V342.8" stroke="#089981" stroke-width="0.8"/>
<rect x="658.32" y="340.1" width="1.8" height="0.8" fill="#089981"/>
<path d="M661.23,338.3V344.1" stroke="#f5305c" stroke-width="0.8"/>
<rect x="660.33" y="340.1" width="1.8" height="1.8" fill="#f5305c"/>
<path d="M663.25,339.1V342.5" stroke="#089981" stroke-width="0.8"/>
<rect x="662.35" y="341.5" width="1.8" height="0.8" fill="#089981"/>
<path d="M665.26,339.8V344.8" stroke="#f5305c" stroke-width="0.8"/>
<rect x="664.36" y="341.5" width="1.8" height="1.4" fill="#f5305c"/>
<path d="M667.27,341.0V344.7" stroke="#089981" stroke-width="0.8"/>
<rect x="666.37" y="342.4" width="1.8" height="0.8" fill="#089981"/>
<path d="M669.28,340.4V344.4" stroke="#f5305c" stroke-width="0.8"/>
<rect x="668.38" y="342.4" width="1.8" height="0.8" fill="#f5305c"/>
<path d="M671.29,342.4V344.8" stroke="#f5305c" stroke-width="0.8"/>
<rect x="670.39" y="342.9" width="1.8" height="0.8" fill="#f5305c"/>
<path d="M673.30,340.8V345.2" stroke="#089981" stroke-width="0.8"/>
<rect x="672.40" y="341.7" width="1.8" height="1.2" fill="#089981"/>
<path d="M675.31,339.5V342.6" stroke="#089981" stroke-width="0.8"/>
<rect x="674.41" y="341.0" width="1.8" height="0.8" fill="#089981"/>
<path d="M677.32,340.4V342.2" stroke="#f5305c" stroke-width="0.8"/>
<rect x="676.42" y="341.0" width="1.8" height="0.8" fill="#f5305c"/>
<path d="M679.33,340.9V344.0" stroke="#f5305c" stroke-width="0.8"/>
<rect x="678.43" y="341.5" width="1.8" height="1.0" fill="#f5305c"/>
<path d="M681.34,342.0V345.4" stroke="#f5305c" stroke-width="0.8"/>
<rect x="680.44" y="342.5" width="1.8" height="0.9" fill="#f5305c"/>
<path d="M683.36,340.8V345.7" stroke="#089981" stroke-width="0.8"/>
<rect x="682.46" y="343.0" width="1.8" height="0.8" fill="#089981"/>
<path d="M685.37,342.5V346.3" stroke="#f5305c" stroke-width="0.8"/>
<rect x="684.47" y="343.0" width="1.8" height="1.7" fill="#f5305c"/>
<path d="M687.38,341.9V345.4" stroke="#089981" stroke-width="0.8"/>
<rect x="686.48" y="344.6" width="1.8" height="0.8" fill="#089981"/>
<path d="M689.39,341.8V348.3" stroke="#f5305c" stroke-width="0.8"/>
<rect x="688.49" y="344.6" width="1.8" height="1.6" fill="#f5305c"/>
<path d="M691.40,344.9V348.9" stroke="#089981" stroke-width="0.8"/>
<rect x="690.50" y="345.8" width="1.8" height="0.8" fill="#089981"/>
<path d="M693.41,342.0V348.4" stroke="#089981" stroke-width="0.8"/>
<rect x="692.51" y="344.7" width="1.8" height="1.1" fill="#089981"/>
<path d="M695.42,341.6V347.3" stroke="#089981" stroke-width="0.8"/>
<rect x="694.52" y="343.9" width="1.8" height="0.8" fill="#089981"/>
<path d="M697.43,342.7V346.2" stroke="#f5305c" stroke-width="0.8"/>
<rect x="696.53" y="343.9" width="1.8" height="0.8" fill="#f5305c"/>
<path d="M699.44,341.4V346.5" stroke="#f5305c" stroke-width="0.8"/>
<rect x="698.54" y="344.0" width="1.8" height="1.5" fill="#f5305c"/>
<path d="M701.45,344.7V349.9" stroke="#f5305c" stroke-width="0.8"/>
<rect x="700.55" y="345.5" width="1.8" height="2.8" fill="#f5305c"/>
<path d="M703.47,347.2V349.3" stroke="#089981" stroke-width="0.8"/>
<rect x="702.57" y="348.1" width="1.8" height="0.8" fill="#089981"/>
<path d="M705.48,345.3V348.6" stroke="#089981" stroke-width="0.8"/>
<rect x="704.58" y="346.5" width="1.8" height="1.6" fill="#089981"/>
<path d="M707.49,344.2V349.1" stroke="#089981" stroke-width="0.8"/>
<rect x="706.59" y="345.0" width="1.8" height="1.5" fill="#089981"/>
<path d="M709.50,342.4V346.4" stroke="#f5305c" stroke-width="0.8"/>
<rect x="708.60" y="345.0" width="1.8" height="0.8" fill="#f5305c"/>
<path d="M711.51,344.7V347.3" stroke="#089981" stroke-width="0.8"/>
<rect x="710.61" y="345.4" width="1.8" height="0.8" fill="#089981"/>
<path d="M713.52,344.0V347.9" stroke="#089981" stroke-width="0.8"/>
<rect x="712.62" y="345.3" width="1.8" height="0.8" fill="#089981"/>
<path d="M715.53,343.5V347.9" stroke="#f5305c" stroke-width="0.8"/>
<rect x="714.63" y="345.3" width="1.8" height="0.8" fill="#f5305c"/>
<path d="M717.54,341.6V347.3" stroke="#089981" stroke-width="0.8"/>
<rect x="716.64" y="344.4" width="1.8" height="1.0" fill="#089981"/>
<path d="M719.55,342.1V346.5" stroke="#f5305c" stroke-width="0.8"/>
<rect x="718.65" y="344.4" width="1.8" height="1.0" fill="#f5305c"/>
<path d="M721.56,343.7V348.7" stroke="#f5305c" stroke-width="0.8"/>
<rect x="720.66" y="345.5" width="1.8" height="2.0" fill="#f5305c"/>
<path d="M723.58,345.8V348.3" stroke="#089981" stroke-width="0.8"/>
<rect x="722.68" y="347.2" width="1.8" height="0.8" fill="#089981"/>
<path d="M725.59,346.7V349.9" stroke="#f5305c" stroke-width="0.8"/>
<rect x="724.69" y="347.2" width="1.8" height="0.8" fill="#f5305c"/>
<path d="M727.60,344.6V350.3" stroke="#089981" stroke-width="0.8"/>
<rect x="726.70" y="346.6" width="1.8" height="1.0" fill="#089981"/>
<path d="M729.61,344.6V348.9" stroke="#f5305c" stroke-width="0.8"/>
<rect x="728.71" y="346.6" width="1.8" height="1.2" fill="#f5305c"/>
<path d="M731.62,345.9V348.5" stroke="#089981" stroke-width="0.8"/>
<rect x="730.72" y="346.4" width="1.8" height="1.4" fill="#089981"/>
<path d="M733.63,345.0V349.4" stroke="#f5305c" stroke-width="0.8"/>
<rect x="732.73" y="346.4" width="1.8" height="1.4" fill="#f5305c"/>
<path d="M735.64,346.8V348.7" stroke="#089981" stroke-width="0.8"/>
<rect x="734.74" y="347.5" width="1.8" height="0.8" fill="#089981"/>
<path d="M737.65,345.6V347.9" stroke="#089981" stroke-width="0.8"/>
<rect x="736.75" y="346.0" width="1.8" height="1.5" fill="#089981"/>
<path d="M739.66,344.0V347.3" stroke="#089981" stroke-width="0.8"/>
<rect x="738.76" y="344.7" width="1.8" height="1.3" fill="#089981"/>
<path d="M741.67,342.3V346.5" stroke="#089981" stroke-width="0.8"/>
<rect x="740.77" y="344.1" width="1.8" height="0.8" fill="#089981"/>
<path d="M743.69,342.2V345.6" stroke="#f5305c" stroke-width="0.8"/>
<rect x="742.79" y="344.1" width="1.8" height="0.8" fill="#f5305c"/>
<path d="M745.70,341.5V346.4" stroke="#f5305c" stroke-width="0.8"/>
<rect x="744.80" y="344.1" width="1.8" height="1.3" fill="#f5305c"/>
<path d="M747.71,344.8V347.9" stroke="#f5305c" stroke-width="0.8"/>
<rect x="746.81" y="345.4" width="1.8" height="0.8" fill="#f5305c"/>
<path d="M749.72,343.6V349.6" stroke="#f5305c" stroke-width="0.8"/>
<rect x="748.82" y="345.9" width="1.8" height="2.3" fill="#f5305c"/>
<path d="M751.73,346.1V350.2" stroke="#089981" stroke-width="0.8"/>
<rect x="750.83" y="346.6" width="1.8" height="1.6" fill="#089981"/>
<path d="M753.74,345.3V349.4" stroke="#f5305c" stroke-width="0.8"/>
<rect x="752.84" y="346.6" width="1.8" height="0.9" fill="#f5305c"/>
<path d="M755.75,344.6V349.6" stroke="#089981" stroke-width="0.8"/>
<rect x="754.85" y="347.2" width="1.8" height="0.8" fill="#089981"/>
<path d="M757.76,343.6V347.7" stroke="#089981" stroke-width="0.8"/>
<rect x="756.86" y="346.2" width="1.8" height="1.1" fill="#089981"/>
<path d="M759.77,340.5V347.1" stroke="#089981" stroke-width="0.8"/>
<rect x="758.87" y="343.5" width="1.8" height="2.6" fill="#089981"/>
<path d="M761.78,341.3V344.2" stroke="#f5305c" stroke-width="0.8"/>
<rect x="760.88" y="343.5" width="1.8" height="0.8" fill="#f5305c"/>
<path d="M763.80,341.1V346.1" stroke="#f5305c" stroke-width="0.8"/>
<rect x="762.90" y="343.8" width="1.8" height="1.6" fill="#f5305c"/>
<path d="M765.81,342.8V347.0" stroke="#089981" stroke-width="0.8"/>
<rect x="764.91" y="344.6" width="1.8" height="0.8" fill="#089981"/>
<path d="M767.82,342.3V346.9" stroke="#f5305c" stroke-width="0.8"/>
<rect x="766.92" y="344.6" width="1.8" height="1.4" fill="#f5305c"/>
<path d="M769.83,344.1V346.6" stroke="#089981" stroke-width="0.8"/>
<rect x="768.93" y="345.3" width="1.8" height="0.8" fill="#089981"/>
<path d="M771.84,343.0V348.9" stroke="#f5305c" stroke-width="0.8"/>
<rect x="770.94" y="345.3" width="1.8" height="1.5" fill="#f5305c"/>
<path d="M773.85,341.9V348.9" stroke="#089981" stroke-width="0.8"/>
<rect x="772.95" y="344.3" width="1.8" height="2.5" fill="#089981"/>
<path d="M775.86,342.1V347.7" stroke="#f5305c" stroke-width="0.8"/>
<rect x="774.96" y="344.3" width="1.8" height="1.9" fill="#f5305c"/>
<path d="M777.87,345.6V347.9" stroke="#f5305c" stroke-width="0.8"/>
<rect x="776.97" y="346.2" width="1.8" height="0.8" fill="#f5305c"/>
<path d="M779.88,345.6V349.1" stroke="#089981" stroke-width="0.8"/>
<rect x="778.98" y="346.9" width="1.8" height="0.8" fill="#089981"/>
<path d="M781.89,344.4V350.0" stroke="#f5305c" stroke-width="0.8"/>
<rect x="780.99" y="346.9" width="1.8" height="1.0" fill="#f5305c"/>
<path d="M783.91,343.5V349.3" stroke="#089981" stroke-width="0.8"/>
<rect x="783.01" y="345.2" width="1.8" height="2.6" fill="#089981"/>
<path d="M785.92,342.6V346.3" stroke="#089981" stroke-width="0.8"/>
<rect x="785.02" y="344.3" width="1.8" height="0.9" fill="#089981"/>
<path d="M787.93,336.9V345.2" stroke="#089981" stroke-width="0.8"/>
<rect x="787.03" y="339.7" width="1.8" height="4.6" fill="#089981"/>
<path d="M789.94,337.9V340.7" stroke="#089981" stroke-width="0.8"/>
<rect x="789.04" y="338.3" width="1.8" height="1.4" fill="#089981"/>
<path d="M791.95,332.4V341.0" stroke="#089981" stroke-width="0.8"/>
<rect x="791.05" y="334.5" width="1.8" height="3.7" fill="#089981"/>
<path d="M793.96,332.7V337.1" stroke="#089981" stroke-width="0.8"/>
<rect x="793.06" y="333.9" width="1.8" height="0.8" fill="#089981"/>
<path d="M795.97,332.5V336.5" stroke="#089981" stroke-width="0.8"/>
<rect x="795.07" y="333.5" width="1.8" height="0.8" fill="#089981"/>
<path d="M797.98,331.4V337.0" stroke="#f5305c" stroke-width="0.8"/>
<rect x="797.08" y="333.5" width="1.8" height="1.6" fill="#f5305c"/>
<path d="M799.99,332.8V337.9" stroke="#f5305c" stroke-width="0.8"/>
<rect x="799.09" y="334.0" width="1.8" height="1.7" fill="#f5305c"/>
<path d="M802.00,331.0V337.2" stroke="#089981" stroke-width="0.8"/>
<rect x="801.10" y="332.0" width="1.8" height="2.8" fill="#089981"/>
<path d="M804.02,328.9V334.9" stroke="#089981" stroke-width="0.8"/>
<rect x="803.12" y="330.0" width="1.8" height="4.0" fill="#089981"/>
<path d="M806.03,323.1V332.5" stroke="#089981" stroke-width="0.8"/>
<rect x="805.13" y="325.0" width="1.8" height="6.0" fill="#089981"/>
<path d="M808.04,317.9V327.5" stroke="#089981" stroke-width="0.8"/>
<rect x="807.14" y="321.4" width="1.8" height="5.4" fill="#089981"/>
<path d="M810.05,314.2V323.7" stroke="#089981" stroke-width="0.8"/>
<rect x="809.15" y="316.0" width="1.8" height="7.0" fill="#089981"/>
<path d="M812.06,304.0V320.1" stroke="#089981" stroke-width="0.8"/>
<rect x="811.16" y="309.0" width="1.8" height="9.0" fill="#089981"/>
<path d="M814.07,312.1V320.1" stroke="#089981" stroke-width="0.8"/>
<rect x="813.17" y="314.0" width="1.8" height="4.0" fill="#089981"/>
<path d="M816.08,309.8V321.7" stroke="#f5305c" stroke-width="0.8"/>
<rect x="815.18" y="311.6" width="1.8" height="8.9" fill="#f5305c"/>
<path d="M818.09,298.7V317.3" stroke="#089981" stroke-width="0.8"/>
<rect x="817.19" y="300.0" width="1.8" height="16.0" fill="#089981"/>
<path d="M820.10,281.7V304.3" stroke="#089981" stroke-width="0.8"/>
<rect x="819.20" y="284.0" width="1.8" height="19.6" fill="#089981"/>
<path d="M822.11,270.5V290.7" stroke="#089981" stroke-width="0.8"/>
<rect x="821.21" y="276.8" width="1.8" height="11.6" fill="#089981"/>
<path d="M824.12,277.1V286.6" stroke="#f5305c" stroke-width="0.8"/>
<rect x="823.23" y="277.7" width="1.8" height="8.0" fill="#f5305c"/>
<path d="M826.14,280.0V290.7" stroke="#f5305c" stroke-width="0.8"/>
<rect x="825.24" y="281.0" width="1.8" height="7.4" fill="#f5305c"/>
<path d="M828.15,282.5V294.2" stroke="#f5305c" stroke-width="0.8"/>
<rect x="827.25" y="284.0" width="1.8" height="8.9" fill="#f5305c"/>
<path d="M830.16,283.4V298.0" stroke="#089981" stroke-width="0.8"/>
<rect x="829.26" y="285.7" width="1.8" height="8.1" fill="#089981"/>
<path d="M832.17,275.0V289.4" stroke="#089981" stroke-width="0.8"/>
<rect x="831.27" y="279.5" width="1.8" height="8.9" fill="#089981"/>
<path d="M834.18,274.5V292.6" stroke="#f5305c" stroke-width="0.8"/>
<rect x="833.28" y="275.9" width="1.8" height="15.1" fill="#f5305c"/>
<path d="M836.19,286.4V298.4" stroke="#f5305c" stroke-width="0.8"/>
<rect x="835.29" y="288.4" width="1.8" height="8.0" fill="#f5305c"/>
<path d="M838.20,288.2V299.2" stroke="#f5305c" stroke-width="0.8"/>
<rect x="837.30" y="290.0" width="1.8" height="8.0" fill="#f5305c"/>
<path d="M840.21,283.6V293.7" stroke="#089981" stroke-width="0.8"/>
<rect x="839.31" y="284.8" width="1.8" height="8.1" fill="#089981"/>
<path d="M842.22,260.7V286.2" stroke="#089981" stroke-width="0.8"/>
<rect x="841.32" y="267.9" width="1.8" height="16.1" fill="#089981"/>
<path d="M844.24,262.5V275.2" stroke="#f5305c" stroke-width="0.8"/>
<rect x="843.34" y="264.3" width="1.8" height="8.9" fill="#f5305c"/>
<path d="M846.25,270.6V288.9" stroke="#f5305c" stroke-width="0.8"/>
<rect x="845.35" y="271.4" width="1.8" height="16.1" fill="#f5305c"/>
<path d="M848.26,265.0V289.2" stroke="#089981" stroke-width="0.8"/>
<rect x="847.36" y="267.0" width="1.8" height="20.5" fill="#089981"/>
<path d="M850.27,266.2V278.2" stroke="#f5305c" stroke-width="0.8"/>
<rect x="849.37" y="267.0" width="1.8" height="9.8" fill="#f5305c"/>
<path d="M852.28,260.2V274.2" stroke="#089981" stroke-width="0.8"/>
<rect x="851.38" y="262.5" width="1.8" height="10.7" fill="#089981"/>
<path d="M854.29,252.7V263.6" stroke="#089981" stroke-width="0.8"/>
<rect x="853.39" y="253.6" width="1.8" height="8.9" fill="#089981"/></g>
<path d="M17.5,253.9H950" stroke="#089981" stroke-width="1" stroke-dasharray="1 2" opacity="0.8"/>
<path d="M538.4,90.9H884.7" stroke="#9a9ca5" stroke-width="1.5"/>
<text x="892" y="95.9" font-size="13" fill="#9598a1" font-weight="400" text-anchor="start" textLength="49.35" lengthAdjust="spacingAndGlyphs" stroke="#9598a1" stroke-width="0.25">100.00%</text>
<path d="M538.4,155.6H884.7" stroke="#5fd0e0" stroke-width="1.5"/>
<text x="892" y="160.6" font-size="13" fill="#33c9dc" font-weight="400" text-anchor="start" textLength="42.4" lengthAdjust="spacingAndGlyphs" stroke="#33c9dc" stroke-width="0.25">75.00%</text>
<path d="M538.4,189.4H884.7" stroke="#34a890" stroke-width="1.5"/>
<text x="892" y="194.4" font-size="13" fill="#2fa892" font-weight="400" text-anchor="start" textLength="42.4" lengthAdjust="spacingAndGlyphs" stroke="#2fa892" stroke-width="0.25">61.80%</text>
<path d="M538.4,219.9H884.7" stroke="#66c070" stroke-width="1.5"/>
<text x="892" y="224.9" font-size="13" fill="#5cb860" font-weight="400" text-anchor="start" textLength="42.4" lengthAdjust="spacingAndGlyphs" stroke="#5cb860" stroke-width="0.25">50.00%</text>
<path d="M538.4,250.5H884.7" stroke="#ffbf70" stroke-width="1.5"/>
<text x="892" y="255.5" font-size="13" fill="#ffaa33" font-weight="400" text-anchor="start" textLength="42.4" lengthAdjust="spacingAndGlyphs" stroke="#ffaa33" stroke-width="0.25">38.20%</text>
<path d="M538.4,284.3H884.7" stroke="#f5506f" stroke-width="1.5"/>
<text x="892" y="289.3" font-size="13" fill="#f5365c" font-weight="400" text-anchor="start" textLength="42.4" lengthAdjust="spacingAndGlyphs" stroke="#f5365c" stroke-width="0.25">25.00%</text>
<path d="M538.4,349.1H884.7" stroke="#9a9ca5" stroke-width="1.5"/>
<text x="892" y="354.1" font-size="13" fill="#9598a1" font-weight="400" text-anchor="start" textLength="35.45" lengthAdjust="spacingAndGlyphs" stroke="#9598a1" stroke-width="0.25">0.00%</text>
<path d="M538.4,90.9L881,349.1" stroke="#8a8d96" stroke-width="1.2" stroke-dasharray="4 4"/>
<g><rect x="18" y="430.2" width="1" height="5.3" fill="#26a69a"/>
<rect x="20" y="429.8" width="1" height="5.7" fill="#26a69a"/>
<rect x="22" y="429.3" width="1" height="6.2" fill="#26a69a"/>
<rect x="24" y="430.2" width="1" height="5.3" fill="#b2dfdb"/>
<rect x="26" y="431.1" width="1" height="4.4" fill="#b2dfdb"/>
<rect x="28" y="431.2" width="1" height="4.3" fill="#b2dfdb"/>
<rect x="30" y="430.4" width="1" height="5.1" fill="#26a69a"/>
<rect x="32" y="429.6" width="1" height="5.9" fill="#26a69a"/>
<rect x="34" y="429.7" width="1" height="5.8" fill="#b2dfdb"/>
<rect x="36" y="429.8" width="1" height="5.7" fill="#b2dfdb"/>
<rect x="38" y="429.9" width="1" height="5.6" fill="#b2dfdb"/>
<rect x="40" y="429.9" width="1" height="5.6" fill="#b2dfdb"/>
<rect x="42" y="430.2" width="1" height="5.3" fill="#b2dfdb"/>
<rect x="44" y="430.5" width="1" height="5.0" fill="#b2dfdb"/>
<rect x="46" y="430.8" width="1" height="4.7" fill="#b2dfdb"/>
<rect x="48" y="431.1" width="1" height="4.4" fill="#b2dfdb"/>
<rect x="50" y="431.3" width="1" height="4.2" fill="#b2dfdb"/>
<rect x="52" y="431.4" width="1" height="4.1" fill="#b2dfdb"/>
<rect x="54" y="431.5" width="1" height="4.0" fill="#b2dfdb"/>
<rect x="56" y="429.9" width="1" height="5.6" fill="#26a69a"/>
<rect x="58" y="428.4" width="1" height="7.1" fill="#26a69a"/>
<rect x="60" y="426.9" width="1" height="8.6" fill="#26a69a"/>
<rect x="62" y="426.5" width="1" height="9.0" fill="#26a69a"/>
<rect x="64" y="426.6" width="1" height="8.9" fill="#b2dfdb"/>
<rect x="66" y="426.8" width="1" height="8.7" fill="#b2dfdb"/>
<rect x="68" y="427.6" width="1" height="7.9" fill="#b2dfdb"/>
<rect x="70" y="429.2" width="1" height="6.3" fill="#b2dfdb"/>
<rect x="72" y="431.9" width="1" height="3.6" fill="#b2dfdb"/>
<rect x="74" y="433.7" width="1" height="1.8" fill="#b2dfdb"/>
<rect x="76" y="433.3" width="1" height="2.2" fill="#26a69a"/>
<rect x="78" y="433.3" width="1" height="2.2" fill="#26a69a"/>
<rect x="80" y="434.6" width="1" height="0.9" fill="#b2dfdb"/>
<rect x="82" y="435.5" width="1" height="0.5" fill="#ff5252"/>
<rect x="84" y="435.5" width="1" height="3.3" fill="#ff5252"/>
<rect x="86" y="435.5" width="1" height="6.9" fill="#ff5252"/>
<rect x="88" y="435.5" width="1" height="7.2" fill="#ff5252"/>
<rect x="90" y="435.5" width="1" height="7.5" fill="#ff5252"/>
<rect x="92" y="435.5" width="1" height="7.8" fill="#ff5252"/>
<rect x="94" y="435.5" width="1" height="8.3" fill="#ff5252"/>
<rect x="96" y="435.5" width="1" height="8.8" fill="#ff5252"/>
<rect x="98" y="435.5" width="1" height="7.7" fill="#ffcdd2"/>
<rect x="100" y="435.5" width="1" height="6.6" fill="#ffcdd2"/>
<rect x="102" y="435.5" width="1" height="5.5" fill="#ffcdd2"/>
<rect x="104" y="435.5" width="1" height="4.7" fill="#ffcdd2"/>
<rect x="106" y="435.5" width="1" height="4.2" fill="#ffcdd2"/>
<rect x="108" y="435.5" width="1" height="3.7" fill="#ffcdd2"/>
<rect x="110" y="435.5" width="1" height="3.2" fill="#ffcdd2"/>
<rect x="112" y="435.5" width="1" height="2.6" fill="#ffcdd2"/>
<rect x="114" y="435.5" width="1" height="1.9" fill="#ffcdd2"/>
<rect x="116" y="435.5" width="1" height="1.2" fill="#ffcdd2"/>
<rect x="118" y="435.5" width="1" height="0.6" fill="#ffcdd2"/>
<rect x="122" y="434.9" width="1" height="0.6" fill="#26a69a"/>
<rect x="124" y="434.5" width="1" height="1.0" fill="#26a69a"/>
<rect x="126" y="434.0" width="1" height="1.5" fill="#26a69a"/>
<rect x="128" y="433.2" width="1" height="2.3" fill="#26a69a"/>
<rect x="130" y="432.4" width="1" height="3.1" fill="#26a69a"/>
<rect x="132" y="431.6" width="1" height="3.9" fill="#26a69a"/>
<rect x="134" y="431.1" width="1" height="4.4" fill="#26a69a"/>
<rect x="136" y="430.8" width="1" height="4.7" fill="#26a69a"/>
<rect x="138" y="430.5" width="1" height="5.0" fill="#26a69a"/>
<rect x="140" y="430.3" width="1" height="5.2" fill="#26a69a"/>
<rect x="142" y="430.1" width="1" height="5.4" fill="#26a69a"/>
<rect x="144" y="429.9" width="1" height="5.6" fill="#26a69a"/>
<rect x="146" y="429.7" width="1" height="5.8" fill="#26a69a"/>
<rect x="148" y="429.6" width="1" height="5.9" fill="#26a69a"/>
<rect x="150" y="429.6" width="1" height="5.9" fill="#26a69a"/>
<rect x="152" y="429.5" width="1" height="6.0" fill="#26a69a"/>
<rect x="154" y="430.7" width="1" height="4.8" fill="#b2dfdb"/>
<rect x="156" y="432.1" width="1" height="3.4" fill="#b2dfdb"/>
<rect x="158" y="433.2" width="1" height="2.3" fill="#b2dfdb"/>
<rect x="160" y="434.1" width="1" height="1.4" fill="#b2dfdb"/>
<rect x="163" y="435.1" width="1" height="0.4" fill="#b2dfdb"/>
<rect x="165" y="435.5" width="1" height="0.2" fill="#ff5252"/>
<rect x="167" y="435.5" width="1" height="0.4" fill="#ff5252"/>
<rect x="169" y="435.5" width="1" height="0.6" fill="#ff5252"/>
<rect x="171" y="435.5" width="1" height="0.8" fill="#ff5252"/>
<rect x="173" y="435.5" width="1" height="0.9" fill="#ff5252"/>
<rect x="175" y="435.5" width="1" height="0.9" fill="#ff5252"/>
<rect x="177" y="435.5" width="1" height="0.9" fill="#ff5252"/>
<rect x="179" y="435.5" width="1" height="0.9" fill="#ff5252"/>
<rect x="181" y="435.5" width="1" height="0.9" fill="#ff5252"/>
<rect x="183" y="435.5" width="1" height="1.0" fill="#ff5252"/>
<rect x="185" y="435.5" width="1" height="0.9" fill="#ffcdd2"/>
<rect x="187" y="435.5" width="1" height="0.8" fill="#ffcdd2"/>
<rect x="189" y="435.5" width="1" height="0.7" fill="#ffcdd2"/>
<rect x="191" y="435.5" width="1" height="0.6" fill="#ffcdd2"/>
<rect x="193" y="435.5" width="1" height="0.5" fill="#ffcdd2"/>
<rect x="195" y="435.5" width="1" height="0.5" fill="#ffcdd2"/>
<rect x="197" y="435.5" width="1" height="0.3" fill="#ffcdd2"/>
<rect x="199" y="435.5" width="1" height="0.2" fill="#ffcdd2"/>
<rect x="207" y="434.0" width="1" height="1.5" fill="#26a69a"/>
<rect x="209" y="432.3" width="1" height="3.2" fill="#26a69a"/>
<rect x="211" y="430.6" width="1" height="4.9" fill="#26a69a"/>
<rect x="213" y="429.0" width="1" height="6.5" fill="#26a69a"/>
<rect x="215" y="428.7" width="1" height="6.8" fill="#26a69a"/>
<rect x="217" y="428.4" width="1" height="7.1" fill="#26a69a"/>
<rect x="219" y="428.1" width="1" height="7.4" fill="#26a69a"/>
<rect x="221" y="428.1" width="1" height="7.4" fill="#26a69a"/>
<rect x="223" y="428.7" width="1" height="6.8" fill="#b2dfdb"/>
<rect x="225" y="429.2" width="1" height="6.3" fill="#b2dfdb"/>
<rect x="227" y="429.9" width="1" height="5.6" fill="#b2dfdb"/>
<rect x="229" y="430.6" width="1" height="4.9" fill="#b2dfdb"/>
<rect x="231" y="431.4" width="1" height="4.1" fill="#b2dfdb"/>
<rect x="233" y="431.8" width="1" height="3.7" fill="#b2dfdb"/>
<rect x="235" y="431.9" width="1" height="3.6" fill="#b2dfdb"/>
<rect x="237" y="432.1" width="1" height="3.4" fill="#b2dfdb"/>
<rect x="239" y="432.3" width="1" height="3.2" fill="#b2dfdb"/>
<rect x="241" y="432.5" width="1" height="3.0" fill="#b2dfdb"/>
<rect x="243" y="432.8" width="1" height="2.7" fill="#b2dfdb"/>
<rect x="245" y="433.0" width="1" height="2.5" fill="#b2dfdb"/>
<rect x="247" y="433.1" width="1" height="2.4" fill="#b2dfdb"/>
<rect x="249" y="432.5" width="1" height="3.0" fill="#26a69a"/>
<rect x="251" y="431.8" width="1" height="3.7" fill="#26a69a"/>
<rect x="253" y="431.2" width="1" height="4.3" fill="#26a69a"/>
<rect x="255" y="429.1" width="1" height="6.4" fill="#26a69a"/>
<rect x="257" y="425.4" width="1" height="10.1" fill="#26a69a"/>
<rect x="259" y="422.5" width="1" height="13.0" fill="#26a69a"/>
<rect x="261" y="420.1" width="1" height="15.4" fill="#26a69a"/>
<rect x="263" y="420.8" width="1" height="14.7" fill="#b2dfdb"/>
<rect x="265" y="422.7" width="1" height="12.8" fill="#b2dfdb"/>
<rect x="267" y="424.5" width="1" height="11.0" fill="#b2dfdb"/>
<rect x="269" y="428.8" width="1" height="6.7" fill="#b2dfdb"/>
<rect x="271" y="433.9" width="1" height="1.6" fill="#b2dfdb"/>
<rect x="273" y="435.5" width="1" height="1.5" fill="#ff5252"/>
<rect x="275" y="435.5" width="1" height="2.8" fill="#ff5252"/>
<rect x="277" y="435.5" width="1" height="4.2" fill="#ff5252"/>
<rect x="279" y="435.5" width="1" height="5.7" fill="#ff5252"/>
<rect x="281" y="435.5" width="1" height="7.3" fill="#ff5252"/>
<rect x="283" y="435.5" width="1" height="6.5" fill="#ffcdd2"/>
<rect x="285" y="435.5" width="1" height="5.4" fill="#ffcdd2"/>
<rect x="287" y="435.5" width="1" height="4.2" fill="#ffcdd2"/>
<rect x="289" y="435.5" width="1" height="3.3" fill="#ffcdd2"/>
<rect x="291" y="435.5" width="1" height="3.7" fill="#ff5252"/>
<rect x="293" y="435.5" width="1" height="4.1" fill="#ff5252"/>
<rect x="295" y="435.5" width="1" height="4.5" fill="#ff5252"/>
<rect x="297" y="435.5" width="1" height="5.0" fill="#ff5252"/>
<rect x="299" y="435.5" width="1" height="5.8" fill="#ff5252"/>
<rect x="301" y="435.5" width="1" height="6.5" fill="#ff5252"/>
<rect x="303" y="435.5" width="1" height="7.3" fill="#ff5252"/>
<rect x="305" y="435.5" width="1" height="7.3" fill="#ff5252"/>
<rect x="307" y="435.5" width="1" height="7.0" fill="#ffcdd2"/>
<rect x="309" y="435.5" width="1" height="6.6" fill="#ffcdd2"/>
<rect x="311" y="435.5" width="1" height="4.4" fill="#ffcdd2"/>
<rect x="313" y="435.5" width="1" height="2.0" fill="#ffcdd2"/>
<rect x="315" y="435.5" width="1" height="0.9" fill="#ffcdd2"/>
<rect x="317" y="435.5" width="1" height="1.0" fill="#ff5252"/>
<rect x="319" y="435.5" width="1" height="1.0" fill="#ff5252"/>
<rect x="321" y="435.5" width="1" height="1.8" fill="#ff5252"/>
<rect x="323" y="435.5" width="1" height="4.6" fill="#ff5252"/>
<rect x="325" y="435.5" width="1" height="6.4" fill="#ff5252"/>
<rect x="327" y="435.5" width="1" height="7.0" fill="#ff5252"/>
<rect x="329" y="435.5" width="1" height="8.0" fill="#ff5252"/>
<rect x="331" y="435.5" width="1" height="9.1" fill="#ff5252"/>
<rect x="333" y="435.5" width="1" height="8.7" fill="#ffcdd2"/>
<rect x="335" y="435.5" width="1" height="7.7" fill="#ffcdd2"/>
<rect x="337" y="435.5" width="1" height="6.7" fill="#ffcdd2"/>
<rect x="339" y="435.5" width="1" height="5.7" fill="#ffcdd2"/>
<rect x="341" y="435.5" width="1" height="3.3" fill="#ffcdd2"/>
<rect x="343" y="435.5" width="1" height="0.8" fill="#ffcdd2"/>
<rect x="346" y="435.0" width="1" height="0.5" fill="#26a69a"/>
<rect x="348" y="434.0" width="1" height="1.5" fill="#26a69a"/>
<rect x="350" y="434.1" width="1" height="1.4" fill="#b2dfdb"/>
<rect x="352" y="434.3" width="1" height="1.2" fill="#b2dfdb"/>
<rect x="354" y="434.5" width="1" height="1.0" fill="#b2dfdb"/>
<rect x="356" y="434.9" width="1" height="0.6" fill="#b2dfdb"/>
<rect x="360" y="435.5" width="1" height="1.0" fill="#ff5252"/>
<rect x="362" y="435.5" width="1" height="2.2" fill="#ff5252"/>
<rect x="364" y="435.5" width="1" height="3.8" fill="#ff5252"/>
<rect x="366" y="435.5" width="1" height="5.3" fill="#ff5252"/>
<rect x="368" y="435.5" width="1" height="4.9" fill="#ffcdd2"/>
<rect x="370" y="435.5" width="1" height="4.5" fill="#ffcdd2"/>
<rect x="372" y="435.5" width="1" height="3.8" fill="#ffcdd2"/>
<rect x="374" y="435.5" width="1" height="2.7" fill="#ffcdd2"/>
<rect x="376" y="435.5" width="1" height="1.6" fill="#ffcdd2"/>
<rect x="378" y="435.5" width="1" height="0.6" fill="#ffcdd2"/>
<rect x="380" y="435.2" width="1" height="0.3" fill="#26a69a"/>
<rect x="382" y="434.6" width="1" height="0.9" fill="#26a69a"/>
<rect x="384" y="433.9" width="1" height="1.6" fill="#26a69a"/>
<rect x="386" y="433.7" width="1" height="1.8" fill="#26a69a"/>
<rect x="388" y="433.5" width="1" height="2.0" fill="#26a69a"/>
<rect x="390" y="433.3" width="1" height="2.2" fill="#26a69a"/>
<rect x="392" y="433.1" width="1" height="2.4" fill="#26a69a"/>
<rect x="394" y="432.9" width="1" height="2.6" fill="#26a69a"/>
<rect x="396" y="432.4" width="1" height="3.1" fill="#26a69a"/>
<rect x="398" y="431.8" width="1" height="3.7" fill="#26a69a"/>
<rect x="400" y="431.1" width="1" height="4.4" fill="#26a69a"/>
<rect x="402" y="430.3" width="1" height="5.2" fill="#26a69a"/>
<rect x="404" y="429.4" width="1" height="6.1" fill="#26a69a"/>
<rect x="406" y="428.8" width="1" height="6.7" fill="#26a69a"/>
<rect x="408" y="429.0" width="1" height="6.5" fill="#b2dfdb"/>
<rect x="410" y="431.8" width="1" height="3.7" fill="#b2dfdb"/>
<rect x="412" y="434.7" width="1" height="0.8" fill="#b2dfdb"/>
<rect x="414" y="435.5" width="1" height="1.2" fill="#ff5252"/>
<rect x="416" y="435.5" width="1" height="2.3" fill="#ff5252"/>
<rect x="418" y="435.5" width="1" height="3.4" fill="#ff5252"/>
<rect x="420" y="435.5" width="1" height="4.3" fill="#ff5252"/>
<rect x="422" y="435.5" width="1" height="4.1" fill="#ffcdd2"/>
<rect x="424" y="435.5" width="1" height="3.8" fill="#ffcdd2"/>
<rect x="426" y="435.5" width="1" height="3.3" fill="#ffcdd2"/>
<rect x="428" y="435.5" width="1" height="2.8" fill="#ffcdd2"/>
<rect x="430" y="435.5" width="1" height="2.3" fill="#ffcdd2"/>
<rect x="432" y="435.5" width="1" height="1.9" fill="#ffcdd2"/>
<rect x="434" y="435.5" width="1" height="1.6" fill="#ffcdd2"/>
<rect x="436" y="435.5" width="1" height="1.3" fill="#ffcdd2"/>
<rect x="438" y="435.5" width="1" height="1.1" fill="#ffcdd2"/>
<rect x="440" y="435.5" width="1" height="0.9" fill="#ffcdd2"/>
<rect x="442" y="435.5" width="1" height="1.0" fill="#ff5252"/>
<rect x="444" y="435.5" width="1" height="1.1" fill="#ff5252"/>
<rect x="446" y="435.5" width="1" height="1.1" fill="#ff5252"/>
<rect x="448" y="435.5" width="1" height="1.2" fill="#ff5252"/>
<rect x="450" y="435.5" width="1" height="1.3" fill="#ff5252"/>
<rect x="452" y="435.5" width="1" height="1.4" fill="#ff5252"/>
<rect x="454" y="435.5" width="1" height="1.5" fill="#ff5252"/>
<rect x="456" y="435.5" width="1" height="1.3" fill="#ffcdd2"/>
<rect x="458" y="435.5" width="1" height="0.8" fill="#ffcdd2"/>
<rect x="460" y="435.5" width="1" height="0.4" fill="#ffcdd2"/>
<rect x="462" y="435.3" width="1" height="0.2" fill="#26a69a"/>
<rect x="464" y="434.5" width="1" height="1.0" fill="#26a69a"/>
<rect x="466" y="433.7" width="1" height="1.8" fill="#26a69a"/>
<rect x="468" y="433.2" width="1" height="2.3" fill="#26a69a"/>
<rect x="470" y="432.9" width="1" height="2.6" fill="#26a69a"/>
<rect x="472" y="432.8" width="1" height="2.7" fill="#26a69a"/>
<rect x="474" y="432.6" width="1" height="2.9" fill="#26a69a"/>
<rect x="476" y="432.4" width="1" height="3.1" fill="#26a69a"/>
<rect x="478" y="432.3" width="1" height="3.2" fill="#26a69a"/>
<rect x="480" y="432.4" width="1" height="3.1" fill="#b2dfdb"/>
<rect x="482" y="432.6" width="1" height="2.9" fill="#b2dfdb"/>
<rect x="484" y="432.8" width="1" height="2.7" fill="#b2dfdb"/>
<rect x="486" y="432.9" width="1" height="2.6" fill="#b2dfdb"/>
<rect x="488" y="432.7" width="1" height="2.8" fill="#26a69a"/>
<rect x="490" y="432.5" width="1" height="3.0" fill="#26a69a"/>
<rect x="492" y="432.3" width="1" height="3.2" fill="#26a69a"/>
<rect x="494" y="431.9" width="1" height="3.6" fill="#26a69a"/>
<rect x="496" y="431.1" width="1" height="4.4" fill="#26a69a"/>
<rect x="498" y="430.2" width="1" height="5.3" fill="#26a69a"/>
<rect x="500" y="430.5" width="1" height="5.0" fill="#b2dfdb"/>
<rect x="502" y="431.3" width="1" height="4.2" fill="#b2dfdb"/>
<rect x="504" y="432.1" width="1" height="3.4" fill="#b2dfdb"/>
<rect x="506" y="432.9" width="1" height="2.6" fill="#b2dfdb"/>
<rect x="508" y="433.8" width="1" height="1.7" fill="#b2dfdb"/>
<rect x="510" y="435.5" width="1" height="0.4" fill="#ff5252"/>
<rect x="512" y="435.5" width="1" height="1.2" fill="#ff5252"/>
<rect x="514" y="435.5" width="1" height="2.0" fill="#ff5252"/>
<rect x="516" y="435.5" width="1" height="2.5" fill="#ff5252"/>
<rect x="518" y="435.5" width="1" height="2.9" fill="#ff5252"/>
<rect x="520" y="435.5" width="1" height="3.4" fill="#ff5252"/>
<rect x="522" y="435.5" width="1" height="3.9" fill="#ff5252"/>
<rect x="524" y="435.5" width="1" height="3.7" fill="#ffcdd2"/>
<rect x="526" y="435.5" width="1" height="3.5" fill="#ffcdd2"/>
<rect x="529" y="435.5" width="1" height="3.3" fill="#ffcdd2"/>
<rect x="531" y="435.5" width="1" height="2.6" fill="#ffcdd2"/>
<rect x="533" y="435.5" width="1" height="1.6" fill="#ffcdd2"/>
<rect x="535" y="435.5" width="1" height="0.7" fill="#ffcdd2"/>
<rect x="537" y="435.5" width="1" height="0.2" fill="#ffcdd2"/>
<rect x="539" y="435.3" width="1" height="0.2" fill="#26a69a"/>
<rect x="541" y="434.8" width="1" height="0.7" fill="#26a69a"/>
<rect x="543" y="434.7" width="1" height="0.8" fill="#26a69a"/>
<rect x="545" y="434.7" width="1" height="0.8" fill="#b2dfdb"/>
<rect x="547" y="434.7" width="1" height="0.8" fill="#b2dfdb"/>
<rect x="549" y="434.9" width="1" height="0.6" fill="#b2dfdb"/>
<rect x="551" y="435.3" width="1" height="0.2" fill="#b2dfdb"/>
<rect x="555" y="435.5" width="1" height="0.4" fill="#ff5252"/>
<rect x="557" y="435.5" width="1" height="0.2" fill="#ffcdd2"/>
<rect x="563" y="435.3" width="1" height="0.2" fill="#26a69a"/>
<rect x="567" y="435.5" width="1" height="0.5" fill="#ff5252"/>
<rect x="569" y="435.5" width="1" height="0.9" fill="#ff5252"/>
<rect x="571" y="435.5" width="1" height="1.5" fill="#ff5252"/>
<rect x="573" y="435.5" width="1" height="2.0" fill="#ff5252"/>
<rect x="575" y="435.5" width="1" height="1.9" fill="#ffcdd2"/>
<rect x="577" y="435.5" width="1" height="1.9" fill="#ffcdd2"/>
<rect x="579" y="435.5" width="1" height="1.5" fill="#ffcdd2"/>
<rect x="581" y="435.5" width="1" height="0.7" fill="#ffcdd2"/>
<rect x="583" y="435.5" width="1" height="0.2" fill="#ffcdd2"/>
<rect x="589" y="435.3" width="1" height="0.2" fill="#26a69a"/>
<rect x="591" y="435.1" width="1" height="0.4" fill="#26a69a"/>
<rect x="593" y="434.9" width="1" height="0.6" fill="#26a69a"/>
<rect x="595" y="434.7" width="1" height="0.8" fill="#26a69a"/>
<rect x="597" y="434.6" width="1" height="0.9" fill="#26a69a"/>
<rect x="599" y="434.4" width="1" height="1.1" fill="#26a69a"/>
<rect x="601" y="434.2" width="1" height="1.3" fill="#26a69a"/>
<rect x="603" y="434.4" width="1" height="1.1" fill="#b2dfdb"/>
<rect x="605" y="434.5" width="1" height="1.0" fill="#b2dfdb"/>
<rect x="607" y="434.6" width="1" height="0.9" fill="#b2dfdb"/>
<rect x="609" y="434.8" width="1" height="0.7" fill="#b2dfdb"/>
<rect x="611" y="434.7" width="1" height="0.8" fill="#26a69a"/>
<rect x="613" y="434.6" width="1" height="0.9" fill="#26a69a"/>
<rect x="615" y="434.5" width="1" height="1.0" fill="#26a69a"/>
<rect x="617" y="434.5" width="1" height="1.0" fill="#26a69a"/>
<rect x="619" y="434.5" width="1" height="1.0" fill="#26a69a"/>
<rect x="621" y="434.5" width="1" height="1.0" fill="#26a69a"/>
<rect x="623" y="433.9" width="1" height="1.6" fill="#26a69a"/>
<rect x="625" y="432.8" width="1" height="2.7" fill="#26a69a"/>
<rect x="627" y="431.8" width="1" height="3.7" fill="#26a69a"/>
<rect x="629" y="431.2" width="1" height="4.3" fill="#26a69a"/>
<rect x="631" y="431.5" width="1" height="4.0" fill="#b2dfdb"/>
<rect x="633" y="431.7" width="1" height="3.8" fill="#b2dfdb"/>
<rect x="635" y="432.0" width="1" height="3.5" fill="#b2dfdb"/>
<rect x="637" y="431.8" width="1" height="3.7" fill="#26a69a"/>
<rect x="639" y="430.9" width="1" height="4.6" fill="#26a69a"/>
<rect x="641" y="430.4" width="1" height="5.1" fill="#26a69a"/>
<rect x="643" y="430.7" width="1" height="4.8" fill="#b2dfdb"/>
<rect x="645" y="431.2" width="1" height="4.3" fill="#b2dfdb"/>
<rect x="647" y="432.9" width="1" height="2.6" fill="#b2dfdb"/>
<rect x="649" y="433.8" width="1" height="1.7" fill="#b2dfdb"/>
<rect x="651" y="435.0" width="1" height="0.5" fill="#b2dfdb"/>
<rect x="653" y="435.5" width="1" height="1.0" fill="#ff5252"/>
<rect x="655" y="435.5" width="1" height="1.7" fill="#ff5252"/>
<rect x="657" y="435.5" width="1" height="2.4" fill="#ff5252"/>
<rect x="659" y="435.5" width="1" height="3.0" fill="#ff5252"/>
<rect x="661" y="435.5" width="1" height="3.4" fill="#ff5252"/>
<rect x="663" y="435.5" width="1" height="3.6" fill="#ff5252"/>
<rect x="665" y="435.5" width="1" height="3.8" fill="#ff5252"/>
<rect x="667" y="435.5" width="1" height="3.9" fill="#ff5252"/>
<rect x="669" y="435.5" width="1" height="3.9" fill="#ff5252"/>
<rect x="671" y="435.5" width="1" height="3.7" fill="#ffcdd2"/>
<rect x="673" y="435.5" width="1" height="3.4" fill="#ffcdd2"/>
<rect x="675" y="435.5" width="1" height="3.0" fill="#ffcdd2"/>
<rect x="677" y="435.5" width="1" height="2.6" fill="#ffcdd2"/>
<rect x="679" y="435.5" width="1" height="2.5" fill="#ffcdd2"/>
<rect x="681" y="435.5" width="1" height="2.3" fill="#ffcdd2"/>
<rect x="683" y="435.5" width="1" height="2.2" fill="#ffcdd2"/>
<rect x="685" y="435.5" width="1" height="2.1" fill="#ffcdd2"/>
<rect x="687" y="435.5" width="1" height="1.9" fill="#ffcdd2"/>
<rect x="689" y="435.5" width="1" height="1.7" fill="#ffcdd2"/>
<rect x="691" y="435.5" width="1" height="1.5" fill="#ffcdd2"/>
<rect x="693" y="435.5" width="1" height="1.3" fill="#ffcdd2"/>
<rect x="695" y="435.5" width="1" height="1.1" fill="#ffcdd2"/>
<rect x="697" y="435.5" width="1" height="0.8" fill="#ffcdd2"/>
<rect x="699" y="435.5" width="1" height="0.6" fill="#ffcdd2"/>
<rect x="701" y="435.5" width="1" height="0.4" fill="#ffcdd2"/>
<rect x="712" y="435.3" width="1" height="0.2" fill="#26a69a"/>
<rect x="714" y="435.2" width="1" height="0.3" fill="#26a69a"/>
<rect x="716" y="435.1" width="1" height="0.4" fill="#26a69a"/>
<rect x="718" y="435.2" width="1" height="0.3" fill="#b2dfdb"/>
<rect x="720" y="435.2" width="1" height="0.3" fill="#b2dfdb"/>
<rect x="722" y="435.3" width="1" height="0.2" fill="#b2dfdb"/>
<rect x="730" y="435.3" width="1" height="0.2" fill="#26a69a"/>
<rect x="732" y="435.0" width="1" height="0.5" fill="#26a69a"/>
<rect x="734" y="434.7" width="1" height="0.8" fill="#26a69a"/>
<rect x="736" y="434.4" width="1" height="1.1" fill="#26a69a"/>
<rect x="738" y="434.3" width="1" height="1.2" fill="#26a69a"/>
<rect x="740" y="434.2" width="1" height="1.3" fill="#26a69a"/>
<rect x="742" y="434.2" width="1" height="1.3" fill="#26a69a"/>
<rect x="744" y="434.1" width="1" height="1.4" fill="#26a69a"/>
<rect x="746" y="434.4" width="1" height="1.1" fill="#b2dfdb"/>
<rect x="748" y="434.6" width="1" height="0.9" fill="#b2dfdb"/>
<rect x="750" y="434.8" width="1" height="0.7" fill="#b2dfdb"/>
<rect x="752" y="435.0" width="1" height="0.5" fill="#b2dfdb"/>
<rect x="754" y="435.2" width="1" height="0.3" fill="#b2dfdb"/>
<rect x="762" y="435.3" width="1" height="0.2" fill="#26a69a"/>
<rect x="764" y="435.2" width="1" height="0.3" fill="#26a69a"/>
<rect x="766" y="435.1" width="1" height="0.4" fill="#26a69a"/>
<rect x="768" y="435.0" width="1" height="0.5" fill="#26a69a"/>
<rect x="770" y="434.9" width="1" height="0.6" fill="#26a69a"/>
<rect x="772" y="435.0" width="1" height="0.5" fill="#b2dfdb"/>
<rect x="774" y="435.0" width="1" height="0.5" fill="#b2dfdb"/>
<rect x="776" y="435.1" width="1" height="0.4" fill="#b2dfdb"/>
<rect x="778" y="435.2" width="1" height="0.3" fill="#b2dfdb"/>
<rect x="780" y="435.2" width="1" height="0.3" fill="#b2dfdb"/>
<rect x="782" y="435.3" width="1" height="0.2" fill="#b2dfdb"/>
<rect x="786" y="434.6" width="1" height="0.9" fill="#26a69a"/>
<rect x="788" y="434.1" width="1" height="1.4" fill="#26a69a"/>
<rect x="790" y="433.7" width="1" height="1.8" fill="#26a69a"/>
<rect x="792" y="433.1" width="1" height="2.4" fill="#26a69a"/>
<rect x="794" y="432.5" width="1" height="3.0" fill="#26a69a"/>
<rect x="796" y="432.6" width="1" height="2.9" fill="#b2dfdb"/>
<rect x="798" y="432.6" width="1" height="2.9" fill="#26a69a"/>
<rect x="800" y="432.3" width="1" height="3.2" fill="#26a69a"/>
<rect x="802" y="432.6" width="1" height="2.9" fill="#b2dfdb"/>
<rect x="804" y="433.0" width="1" height="2.5" fill="#b2dfdb"/>
<rect x="806" y="433.3" width="1" height="2.2" fill="#b2dfdb"/>
<rect x="808" y="431.7" width="1" height="3.8" fill="#26a69a"/>
<rect x="810" y="431.0" width="1" height="4.5" fill="#26a69a"/>
<rect x="812" y="429.9" width="1" height="5.6" fill="#26a69a"/>
<rect x="814" y="429.9" width="1" height="5.6" fill="#b2dfdb"/>
<rect x="816" y="430.0" width="1" height="5.5" fill="#b2dfdb"/>
<rect x="818" y="429.0" width="1" height="6.5" fill="#26a69a"/>
<rect x="820" y="424.8" width="1" height="10.7" fill="#26a69a"/>
<rect x="822" y="419.2" width="1" height="16.3" fill="#26a69a"/>
<rect x="824" y="419.5" width="1" height="16.0" fill="#b2dfdb"/>
<rect x="826" y="419.4" width="1" height="16.1" fill="#26a69a"/>
<rect x="828" y="423.4" width="1" height="12.1" fill="#b2dfdb"/>
<rect x="830" y="425.5" width="1" height="10.0" fill="#b2dfdb"/>
<rect x="832" y="426.6" width="1" height="8.9" fill="#b2dfdb"/>
<rect x="834" y="430.3" width="1" height="5.2" fill="#b2dfdb"/>
<rect x="836" y="433.0" width="1" height="2.5" fill="#b2dfdb"/>
<rect x="838" y="434.7" width="1" height="0.8" fill="#b2dfdb"/>
<rect x="840" y="433.3" width="1" height="2.2" fill="#26a69a"/>
<rect x="842" y="431.9" width="1" height="3.6" fill="#26a69a"/>
<rect x="844" y="433.7" width="1" height="1.8" fill="#b2dfdb"/>
<rect x="846" y="434.1" width="1" height="1.4" fill="#b2dfdb"/>
<rect x="848" y="434.1" width="1" height="1.4" fill="#b2dfdb"/>
<rect x="850" y="435.0" width="1" height="0.5" fill="#b2dfdb"/>
<rect x="852" y="434.0" width="1" height="1.5" fill="#26a69a"/>
<rect x="854" y="431.2" width="1" height="4.3" fill="#26a69a"/></g>
<path d="M17.5,435.5H950" stroke="#9598a1" stroke-width="1" stroke-dasharray="4 4" opacity="0.7"/>
<path d="M16.7,456.1 C17.6,455.7 20.1,453.9 21.8,453.6 C23.5,453.3 25.1,454.9 26.8,454.5 C28.5,454.1 29.6,452.1 31.9,451.1 C34.2,450.1 37.6,449.2 40.4,448.5 C43.2,447.8 46.5,447.6 48.8,446.8 C51.0,446.0 52.5,444.9 53.9,443.5 C55.3,442.1 56.2,440.4 57.3,438.4 C58.4,436.4 59.3,433.8 60.7,431.6 C62.1,429.4 64.4,426.4 65.8,425.3 C67.2,424.2 67.8,424.3 69.1,424.8 C70.4,425.3 72.0,427.8 73.4,428.2 C74.8,428.6 76.0,427.0 77.6,427.4 C79.1,427.8 81.3,428.6 82.7,430.8 C84.1,433.1 84.7,438.1 86.1,440.9 C87.5,443.7 89.4,445.6 91.1,447.7 C92.8,449.8 94.2,452.2 96.2,453.6 C98.2,455.0 100.5,455.3 103.0,456.1 C105.5,456.9 108.6,458.1 111.4,458.2 C114.2,458.3 117.4,457.6 119.9,457.0 C122.5,456.4 124.5,455.9 126.7,454.5 C128.9,453.1 131.6,450.1 133.4,448.5 C135.2,446.9 135.6,446.7 137.5,445.2 C139.4,443.7 142.5,441.4 145.0,439.5 C147.5,437.6 150.5,434.8 152.6,433.9 C154.7,433.0 155.4,433.1 157.3,433.9 C159.2,434.7 161.5,437.4 163.8,438.6 C166.2,439.9 168.3,440.8 171.4,441.4 C174.5,442.0 178.8,442.1 182.6,442.4 C186.3,442.6 190.1,443.2 193.9,442.9 C197.7,442.6 202.1,442.1 205.2,440.5 C208.3,438.9 210.2,435.7 212.7,433.0 C215.2,430.3 218.0,426.6 220.2,424.5 C222.4,422.4 224.0,421.3 225.9,420.4 C227.8,419.5 229.3,419.8 231.5,418.9 C233.7,417.9 236.3,416.1 239.0,414.7 C241.7,413.3 245.0,411.7 247.5,410.4 C250.0,409.1 252.4,409.4 254.1,406.7 C255.8,404.0 256.6,398.0 257.9,394.4 C259.1,390.8 259.9,386.7 261.6,385.0 C263.3,383.3 266.3,382.2 268.2,384.1 C270.1,386.0 271.3,393.0 272.9,396.3 C274.5,399.6 276.2,401.5 277.6,403.8 C279.0,406.1 279.5,409.3 281.4,410.4 C283.3,411.5 286.4,409.4 288.9,410.4 C291.4,411.3 293.9,413.4 296.4,416.1 C298.9,418.8 301.7,423.9 303.9,426.4 C306.1,428.9 307.8,431.1 309.5,431.1 C311.2,431.1 312.3,426.9 314.2,426.4 C316.1,425.9 318.8,426.4 320.8,428.3 C322.9,430.2 324.6,434.3 326.5,437.7 C328.4,441.1 329.9,447.0 332.1,448.9 C334.3,450.8 337.1,449.8 339.6,448.9 C342.1,448.0 344.6,444.2 347.1,443.3 C349.6,442.4 352.5,442.6 354.7,443.3 C356.9,444.0 358.5,445.7 360.3,447.4 C362.1,449.1 363.8,452.2 365.5,453.3 C367.2,454.4 368.6,454.1 370.8,453.9 C373.0,453.7 376.5,452.8 378.7,452.0 C380.9,451.2 381.3,450.3 383.9,449.3 C386.5,448.3 391.9,447.2 394.5,446.0 C397.1,444.8 397.9,443.5 399.7,442.1 C401.4,440.7 403.7,438.5 405.0,437.5 C406.3,436.5 406.3,435.6 407.6,436.2 C408.9,436.8 410.9,439.4 412.9,441.4 C414.9,443.4 417.8,446.7 419.5,448.0 C421.2,449.3 421.4,449.2 423.4,449.3 C425.4,449.4 428.7,448.8 431.3,448.7 C433.9,448.6 436.6,448.7 439.2,448.9 C441.8,449.1 444.5,449.6 447.1,450.0 C449.7,450.4 452.6,451.2 455.0,451.3 C457.4,451.4 459.6,451.4 461.6,450.7 C463.6,450.0 464.6,448.5 466.8,447.4 C469.0,446.3 473.1,444.9 475.0,444.1 C476.9,443.3 476.1,443.4 477.9,442.8 C479.7,442.2 483.2,441.8 485.8,440.8 C488.4,439.8 491.5,438.3 493.7,436.8 C495.9,435.3 497.4,432.6 498.9,431.6 C500.4,430.6 501.3,430.9 502.9,430.9 C504.4,430.9 506.2,430.6 508.2,431.6 C510.2,432.6 512.3,435.1 514.7,436.8 C517.1,438.6 520.2,441.0 522.6,442.1 C525.0,443.2 527.2,443.2 529.2,443.2 C531.2,443.2 532.5,442.7 534.5,442.1 C536.5,441.5 538.8,440.1 541.0,439.5 C543.2,438.9 545.4,438.4 547.6,438.4 C549.8,438.3 551.8,439.3 554.2,439.2 C556.6,439.1 559.9,437.8 562.1,437.9 C564.3,438.0 565.6,439.3 567.4,440.1 C569.1,440.9 570.9,442.2 572.6,442.8 C574.4,443.4 576.4,443.5 577.9,443.4 C579.4,443.3 579.8,442.7 581.8,442.4 C583.8,442.1 586.8,442.1 590.0,441.8 C593.2,441.5 597.7,440.8 600.8,440.5 C603.9,440.2 606.5,440.3 608.7,440.1 C610.9,439.9 611.7,439.5 613.9,439.2 C616.1,438.9 619.4,439.5 621.8,438.2 C624.2,436.9 626.0,433.2 628.4,431.6 C630.8,430.1 634.3,430.0 636.3,428.9 C638.3,427.8 638.9,425.9 640.3,425.0 C641.7,424.1 643.4,423.4 644.9,423.4 C646.4,423.4 648.1,424.1 649.5,425.0 C650.9,425.9 651.6,427.6 653.4,428.9 C655.1,430.2 657.8,431.6 660.0,432.9 C662.2,434.2 664.9,435.8 666.6,436.8 C668.4,437.8 668.8,438.5 670.5,438.8 C672.2,439.1 674.2,438.6 677.1,438.8 C680.0,439.0 684.3,439.8 687.6,440.1 C690.9,440.4 693.8,440.6 696.8,440.8 C699.8,441.0 702.6,441.6 705.6,441.4 C708.6,441.2 711.2,439.8 715.0,439.5 C718.8,439.2 723.5,440.2 728.2,439.9 C732.9,439.6 738.5,438.1 743.2,437.7 C747.9,437.3 751.9,438.0 756.4,437.7 C760.9,437.4 765.2,436.1 770.0,435.7 C774.8,435.2 781.8,435.7 784.9,435.0 C788.0,434.3 787.3,433.1 788.9,431.6 C790.5,430.1 792.6,427.6 794.4,426.2 C796.2,424.8 797.9,423.9 799.8,423.2 C801.7,422.5 804.3,423.0 805.9,422.1 C807.5,421.2 808.3,419.6 809.2,418.1 C810.1,416.6 810.2,415.1 811.3,413.3 C812.4,411.5 814.8,409.3 816.0,407.2 C817.2,405.1 817.7,404.3 818.7,400.5 C819.7,396.7 820.9,388.0 822.1,384.2 C823.4,380.4 825.0,378.4 826.2,377.5 C827.4,376.6 828.5,378.8 829.5,378.8 C830.5,378.8 830.8,376.8 832.2,377.7 C833.6,378.6 836.0,383.8 837.7,384.2 C839.4,384.6 841.2,380.5 842.4,380.2 C843.6,379.9 844.3,382.4 845.1,382.6 C845.9,382.8 846.1,381.4 847.1,381.3 C848.1,381.2 850.0,382.9 851.2,382.2 C852.5,381.4 854.0,377.7 854.6,376.8" fill="none" stroke="#3070ff" stroke-width="1.3"/>
<path d="M16.7,461.2 C19.2,460.5 26.6,458.7 31.9,457.0 C37.2,455.3 44.6,453.1 48.8,451.1 C53.0,449.1 54.5,447.9 57.3,445.1 C60.1,442.3 63.1,436.6 65.8,434.1 C68.5,431.6 70.6,430.6 73.4,429.9 C76.2,429.2 79.8,428.2 82.7,429.9 C85.7,431.6 87.7,436.6 91.1,440.1 C94.5,443.6 99.6,448.6 103.0,451.1 C106.4,453.6 108.6,454.3 111.4,455.3 C114.2,456.3 117.4,456.9 119.9,457.0 C122.5,457.1 124.5,456.8 126.7,456.1 C128.9,455.4 130.3,454.6 133.4,452.8 C136.5,451.0 141.0,447.9 145.0,445.2 C149.0,442.5 152.9,437.5 157.3,436.7 C161.7,435.9 165.3,439.6 171.4,440.5 C177.5,441.4 187.0,442.6 193.9,442.4 C200.8,442.2 207.4,442.2 212.7,439.5 C218.0,436.8 221.5,430.0 225.9,426.4 C230.3,422.8 235.6,420.1 239.0,417.9 C242.4,415.7 244.0,414.3 246.5,413.2 C249.0,412.1 251.6,413.4 254.1,411.4 C256.6,409.4 259.0,404.2 261.6,401.0 C264.2,397.8 266.7,391.9 270.0,392.2 C273.3,392.5 277.0,399.7 281.4,402.9 C285.8,406.1 291.7,407.8 296.4,411.4 C301.1,415.0 306.5,422.1 309.5,424.5 C312.5,426.9 311.7,424.9 314.2,425.5 C316.7,426.1 321.6,426.0 324.6,428.3 C327.6,430.6 329.0,436.7 332.1,439.5 C335.2,442.3 339.6,444.4 343.4,445.2 C347.2,446.0 351.0,443.7 354.7,444.2 C358.4,444.7 361.5,446.7 365.5,448.0 C369.5,449.3 373.9,451.9 378.7,452.0 C383.5,452.1 390.1,450.0 394.5,448.7 C398.9,447.4 401.9,445.4 405.0,444.1 C408.1,442.8 409.8,440.6 412.9,440.8 C416.0,441.0 419.0,444.2 423.4,445.4 C427.8,446.6 433.9,447.3 439.2,448.0 C444.5,448.7 451.3,449.2 455.0,449.7 C458.7,450.1 459.1,450.9 461.6,450.7 C464.1,450.5 466.0,449.9 470.0,448.7 C474.0,447.5 481.9,444.8 485.8,443.4 C489.8,442.0 490.9,441.5 493.7,440.1 C496.5,438.7 500.1,436.1 502.9,434.9 C505.7,433.7 507.2,432.3 510.5,432.9 C513.8,433.4 518.6,436.8 522.6,438.2 C526.6,439.6 530.3,441.2 534.5,441.4 C538.7,441.6 543.0,439.7 547.6,439.2 C552.2,438.7 557.9,437.9 562.1,438.2 C566.3,438.5 569.3,440.1 572.6,440.8 C575.9,441.5 578.9,441.9 581.8,442.1 C584.7,442.3 586.8,442.2 590.0,442.1 C593.2,442.1 595.5,442.3 600.8,441.8 C606.1,441.3 615.9,440.8 621.8,439.2 C627.7,437.6 631.9,434.3 636.3,432.2 C640.7,430.1 644.2,426.7 648.2,426.3 C652.2,425.9 656.3,428.2 660.0,429.6 C663.7,431.0 665.9,433.5 670.5,434.9 C675.1,436.3 681.9,437.1 687.6,438.2 C693.4,439.3 700.4,441.1 705.0,441.4 C709.6,441.7 709.9,440.1 715.0,439.9 C720.1,439.6 728.8,440.3 735.7,439.9 C742.6,439.5 750.7,438.3 756.4,437.7 C762.1,437.1 765.0,436.8 770.0,436.3 C775.0,435.9 781.7,436.5 786.2,435.0 C790.7,433.5 793.4,429.4 797.0,427.5 C800.6,425.6 804.7,426.0 807.9,423.5 C811.1,421.0 813.5,416.8 816.0,412.7 C818.5,408.6 820.8,402.8 822.8,399.1 C824.8,395.4 826.4,392.6 828.2,390.3 C830.0,388.0 831.6,386.3 833.6,385.3 C835.6,384.3 837.9,384.6 840.4,384.2 C842.9,383.8 846.1,383.3 848.5,382.9 C850.9,382.4 853.6,381.7 854.6,381.5" fill="none" stroke="#ff7322" stroke-width="1.3"/>
<text x="24.1" y="49.8" font-size="10.2" fill="#2a2e39" font-weight="400" text-anchor="start" textLength="134.3" lengthAdjust="spacingAndGlyphs" stroke="#2a2e39" stroke-width="0.3">ILV / TetherUS, 1D, BINANCE</text>
<text x="166.2" y="49.8" font-size="10.2" fill="#2a2e39" font-weight="400" text-anchor="start" stroke="#2a2e39" stroke-width="0.3">O</text><text x="174.5" y="49.8" font-size="10.2" fill="#089981" font-weight="400" text-anchor="start" textLength="31.8" lengthAdjust="spacingAndGlyphs" stroke="#089981" stroke-width="0.3">108.28</text>
<text x="212.6" y="49.8" font-size="10.2" fill="#2a2e39" font-weight="400" text-anchor="start" stroke="#2a2e39" stroke-width="0.3">H</text><text x="220.2" y="49.8" font-size="10.2" fill="#089981" font-weight="400" text-anchor="start" textLength="29.9" lengthAdjust="spacingAndGlyphs" stroke="#089981" stroke-width="0.3">116.75</text>
<text x="256.5" y="49.8" font-size="10.2" fill="#2a2e39" font-weight="400" text-anchor="start" stroke="#2a2e39" stroke-width="0.3">L</text><text x="261.8" y="49.8" font-size="10.2" fill="#089981" font-weight="400" text-anchor="start" textLength="31.3" lengthAdjust="spacingAndGlyphs" stroke="#089981" stroke-width="0.3">107.99</text>
<text x="299.0" y="49.8" font-size="10.2" fill="#2a2e39" font-weight="400" text-anchor="start" stroke="#2a2e39" stroke-width="0.3">C</text><text x="306.6" y="49.8" font-size="10.2" fill="#089981" font-weight="400" text-anchor="start" textLength="30.3" lengthAdjust="spacingAndGlyphs" stroke="#089981" stroke-width="0.3">116.38</text>
<text x="343.7" y="49.8" font-size="10.2" fill="#089981" font-weight="400" text-anchor="start" textLength="74.2" lengthAdjust="spacingAndGlyphs" stroke="#089981" stroke-width="0.3">+8.08 (+7.46%)</text>
<text x="24.1" y="64.2" font-size="10.2" fill="#2a2e39" font-weight="400" text-anchor="start" textLength="127.2" lengthAdjust="spacingAndGlyphs" stroke="#2a2e39" stroke-width="0.3">EMA (50, close, 0, SMA, 5)</text>
<text x="158.4" y="64.2" font-size="10.2" fill="#3270f5" font-weight="400" text-anchor="start" textLength="25.7" lengthAdjust="spacingAndGlyphs" stroke="#3270f5" stroke-width="0.3">72.77</text>
<text x="24.6" y="384.4" font-size="10.2" fill="#2a2e39" font-weight="400" text-anchor="start" textLength="166.8" lengthAdjust="spacingAndGlyphs" stroke="#2a2e39" stroke-width="0.3">MACD (12, 26, close, 9, EMA, EMA)</text>
<text x="198.2" y="384.4" font-size="10.2" fill="#26a69a" font-weight="400" text-anchor="start" textLength="20.5" lengthAdjust="spacingAndGlyphs" stroke="#26a69a" stroke-width="0.3">0.93</text>
<text x="225.5" y="384.4" font-size="10.2" fill="#3270f5" font-weight="400" text-anchor="start" textLength="25.2" lengthAdjust="spacingAndGlyphs" stroke="#3270f5" stroke-width="0.3">12.34</text>
<text x="258.4" y="384.4" font-size="10.2" fill="#ff6d00" font-weight="400" text-anchor="start" textLength="23.2" lengthAdjust="spacingAndGlyphs" stroke="#ff6d00" stroke-width="0.3">11.40</text>
<text x="957.8" y="66.2" font-size="11" fill="#50535e" font-weight="400" text-anchor="start" stroke="#50535e" stroke-width="0.15">275.00</text>
<text x="957.8" y="96.4" font-size="11" fill="#50535e" font-weight="400" text-anchor="start" stroke="#50535e" stroke-width="0.15">250.00</text>
<text x="957.8" y="126.60000000000001" font-size="11" fill="#50535e" font-weight="400" text-anchor="start" stroke="#50535e" stroke-width="0.15">225.00</text>
<text x="957.8" y="156.8" font-size="11" fill="#50535e" font-weight="400" text-anchor="start" stroke="#50535e" stroke-width="0.15">200.00</text>
<text x="957.8" y="187.0" font-size="11" fill="#50535e" font-weight="400" text-anchor="start" stroke="#50535e" stroke-width="0.15">175.00</text>
<text x="957.8" y="217.3" font-size="11" fill="#50535e" font-weight="400" text-anchor="start" stroke="#50535e" stroke-width="0.15">150.00</text>
<text x="957.8" y="247.5" font-size="11" fill="#50535e" font-weight="400" text-anchor="start" stroke="#50535e" stroke-width="0.15">125.00</text>
<text x="957.8" y="277.7" font-size="11" fill="#50535e" font-weight="400" text-anchor="start" stroke="#50535e" stroke-width="0.15">100.00</text>
<text x="957.8" y="338.09999999999997" font-size="11" fill="#50535e" font-weight="400" text-anchor="start" stroke="#50535e" stroke-width="0.15">50.00</text>
<text x="957.8" y="368.29999999999995" font-size="11" fill="#50535e" font-weight="400" text-anchor="start" stroke="#50535e" stroke-width="0.15">25.00</text>
<text x="957.8" y="392.0" font-size="11" fill="#50535e" font-weight="400" text-anchor="start" stroke="#50535e" stroke-width="0.15">10.00</text>
<text x="957.8" y="439.4" font-size="11" fill="#50535e" font-weight="400" text-anchor="start" stroke="#50535e" stroke-width="0.15">0.00</text>
<path d="M950.2,246.9H1004.2Q1006.2,246.9 1006.2,248.9V270.9Q1006.2,272.9 1004.2,272.9H950.2Z" fill="#0f9e82"/>
<text x="958.3" y="257.6" font-size="11" fill="#e3f4ef" font-weight="400" text-anchor="start">116.38</text>
<text x="958.3" y="269.6" font-size="11" fill="#e3f4ef" font-weight="400" text-anchor="start">20:46:51</text>
<path d="M950.2,299.7H988.4000000000001Q990.4000000000001,299.7 990.4000000000001,301.7V311.7Q990.4000000000001,313.7 988.4000000000001,313.7H950.2Z" fill="#1f66ff"/>
<text x="958" y="310.6" font-size="11" fill="#e8efff" font-weight="400" text-anchor="start">72.77</text>
<rect x="950.2" y="366.9" width="40.2" height="8" fill="#1f66ff"/>
<text x="958" y="374.6" font-size="11" fill="#e8efff" font-weight="400" text-anchor="start">12.34</text>
<path d="M950.2,374H988.9000000000001Q990.4000000000001,374 990.4000000000001,375.5V386.9Q990.4000000000001,388.4 988.9000000000001,388.4H950.2Z" fill="#ff6300"/>
<text x="958" y="385.2" font-size="11" fill="#fff1e6" font-weight="400" text-anchor="start">11.40</text>
<path d="M950.2,424.1H982.3000000000001Q984.3000000000001,424.1 984.3000000000001,426.1V436.3Q984.3000000000001,438.3 982.3000000000001,438.3H950.2Z" fill="#1fa797"/>
<text x="958" y="434.9" font-size="11" fill="#e3f4f2" font-weight="400" text-anchor="start">0.93</text>
<text x="70" y="487.2" font-size="10.2" fill="#434651" stroke="#434651" stroke-width="0.25" text-anchor="middle">Nov</text>
<text x="192.9" y="487.2" font-size="11.3" font-weight="700" fill="#2a2e39" text-anchor="middle">2023</text>
<text x="311.5" y="487.2" font-size="10.2" fill="#434651" stroke="#434651" stroke-width="0.25" text-anchor="middle">Mar</text>
<text x="433.9" y="487.2" font-size="10.2" fill="#434651" stroke="#434651" stroke-width="0.25" text-anchor="middle">May</text>
<text x="556.8" y="487.2" font-size="10.2" fill="#434651" stroke="#434651" stroke-width="0.25" text-anchor="middle">Jul</text>
<text x="681.6" y="487.2" font-size="10.2" fill="#434651" stroke="#434651" stroke-width="0.25" text-anchor="middle">Sep</text>
<text x="804.3" y="487.2" font-size="10.2" fill="#434651" stroke="#434651" stroke-width="0.25" text-anchor="middle">Nov</text>
<text x="926.4" y="487.2" font-size="11.3" font-weight="700" fill="#2a2e39" text-anchor="middle">2024</text>
<defs><clipPath id="fc"><circle cx="859.5" cy="354.7" r="7"/></clipPath></defs>
<circle cx="865.5" cy="354.7" r="9" fill="#f23645" stroke="#fff" stroke-width="0.8"/>
<circle cx="862.5" cy="354.7" r="9" fill="#f23645" stroke="#fff" stroke-width="0.8"/>
<circle cx="859.5" cy="354.7" r="9" fill="#f23645"/>
<circle cx="859.5" cy="354.7" r="7.1" fill="#fff"/>
<g clip-path="url(#fc)">
<rect x="851" y="346.5" width="11.2" height="9.6" fill="#3d8ef0"/>
<rect x="862.2" y="348.6" width="6" height="2.3" fill="#f23645"/>
<rect x="862.2" y="353.3" width="6" height="2.6" fill="#f23645"/>
<rect x="851" y="358.3" width="17" height="2.6" fill="#f23645"/>
</g>
<g fill="#131722">
<path d="M16.9,505.1H23V512.9H19.9V508H16.9Z"/>
<circle cx="26.3" cy="506.6" r="1.6"/>
<path d="M28.9,505.1H33.4L30.9,512.9H26.4Z"/>
</g>
<text x="37" y="513.5" font-size="11" fill="#3b3f4a" font-weight="400" text-anchor="start" textLength="63" lengthAdjust="spacingAndGlyphs" stroke="#3b3f4a" stroke-width="0.3">TradingView</text>
</svg>
</body></html>
